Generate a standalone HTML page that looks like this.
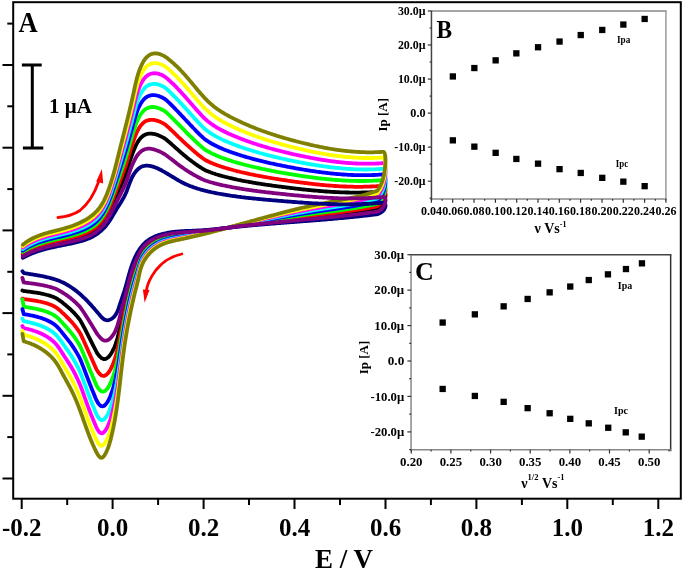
<!DOCTYPE html>
<html><head><meta charset="utf-8"><style>
html,body{margin:0;padding:0;background:#fff;}
svg{display:block;will-change:transform;}
text{font-family:"Liberation Serif",serif;font-weight:bold;fill:#000;}
.tl{font-size:25px;text-anchor:middle;}
.xt{font-size:27px;text-anchor:middle;}
.pl{font-size:28px;}
.sb{font-size:21px;}
.il{font-size:12px;}
.at{font-size:13px;}
.lab{font-size:10px;}
</style></head><body>
<svg width="685" height="576" viewBox="0 0 685 576">
<rect width="685" height="576" fill="#fff"/>
<g fill="none" stroke-width="3.8" stroke-linejoin="round" stroke-linecap="round">
<path d="M22.8 254.9 L23.8 254.3 L24.8 253.7 L25.8 253.2 L26.8 252.6 L27.8 252.1 L28.8 251.6 L29.8 251.2 L30.8 250.7 L31.8 250.3 L32.8 249.8 L33.8 249.4 L34.8 249.0 L35.8 248.7 L36.8 248.3 L37.8 247.9 L38.8 247.6 L39.8 247.3 L40.8 247.0 L41.8 246.7 L42.8 246.4 L43.8 246.1 L44.8 245.8 L45.8 245.5 L46.8 245.2 L47.8 245.0 L48.8 244.7 L49.8 244.5 L50.8 244.2 L51.8 244.0 L52.8 243.8 L53.8 243.5 L54.8 243.3 L55.8 243.1 L56.8 242.9 L57.8 242.6 L58.8 242.4 L59.8 242.2 L60.8 242.0 L61.8 241.8 L62.8 241.6 L63.8 241.3 L64.8 241.1 L65.8 240.9 L66.8 240.7 L67.8 240.4 L68.8 240.2 L69.8 240.0 L70.8 239.7 L71.8 239.5 L72.8 239.3 L73.8 239.0 L74.8 238.7 L75.8 238.5 L76.8 238.2 L77.8 237.9 L78.8 237.6 L79.8 237.3 L80.8 237.0 L81.8 236.7 L82.8 236.3 L83.8 235.9 L84.8 235.6 L85.8 235.2 L86.8 234.7 L87.8 234.3 L88.8 233.8 L89.8 233.3 L90.8 232.8 L91.8 232.3 L92.8 231.7 L93.8 231.1 L94.8 230.4 L95.8 229.6 L96.8 228.8 L97.8 227.9 L98.8 226.9 L99.8 225.9 L100.8 224.8 L101.8 223.7 L102.8 222.4 L103.8 221.1 L104.8 219.7 L105.8 218.1 L106.8 216.5 L107.8 214.7 L108.8 212.8 L109.8 210.8 L110.8 208.6 L111.8 206.4 L112.8 204.2 L113.8 202.0 L114.8 199.7 L115.8 197.4 L116.8 195.1 L117.8 192.8 L118.8 190.5 L119.8 188.2 L120.8 185.9 L121.8 183.6 L122.8 181.2 L123.8 178.8 L124.8 176.3 L125.8 173.6 L126.8 170.8 L127.8 167.7 L128.8 164.5 L129.8 161.4 L130.8 158.3 L131.8 155.5 L132.8 152.9 L133.8 150.3 L134.8 147.9 L135.8 145.6 L136.8 143.6 L137.8 141.9 L138.8 140.4 L139.8 139.0 L140.8 137.9 L141.8 136.9 L142.8 136.1 L143.8 135.4 L144.8 134.8 L145.8 134.4 L146.8 134.0 L147.8 133.8 L148.8 133.7 L149.8 133.6 L150.8 133.6 L151.8 133.6 L152.8 133.8 L153.8 133.9 L154.8 134.2 L155.8 134.4 L156.8 134.7 L157.8 135.1 L158.8 135.5 L159.8 135.9 L160.8 136.4 L161.8 136.9 L162.8 137.4 L163.8 137.9 L164.8 138.5 L165.8 139.3 L166.8 140.1 L167.8 140.9 L168.8 141.8 L169.8 142.6 L170.8 143.5 L171.8 144.4 L172.8 145.3 L173.8 146.2 L174.8 147.1 L175.8 148.0 L176.8 148.8 L177.8 149.7 L178.8 150.6 L179.8 151.5 L180.8 152.4 L181.8 153.2 L182.8 154.1 L183.8 154.9 L184.8 155.7 L185.8 156.6 L186.8 157.4 L187.8 158.2 L188.8 159.0 L189.8 159.7 L190.8 160.5 L191.8 161.3 L192.8 162.0 L193.8 162.7 L194.8 163.5 L195.8 164.2 L196.8 164.9 L197.8 165.6 L198.8 166.3 L199.8 166.9 L200.8 167.6 L201.8 168.2 L202.8 168.8 L203.8 169.4 L204.8 170.0 L205.8 170.5 L206.8 170.9 L207.8 171.3 L208.8 171.7 L209.8 172.1 L210.8 172.5 L211.8 172.8 L212.8 173.2 L213.8 173.5 L214.8 173.8 L215.8 174.2 L216.8 174.5 L217.8 174.8 L218.8 175.1 L219.8 175.4 L220.8 175.7 L221.8 175.9 L222.8 176.2 L223.8 176.5 L224.8 176.7 L225.8 177.0 L226.8 177.2 L227.8 177.5 L228.8 177.7 L229.8 178.0 L230.8 178.2 L231.8 178.4 L232.8 178.7 L233.8 178.9 L234.8 179.1 L235.8 179.3 L236.8 179.5 L237.8 179.8 L238.8 180.0 L239.8 180.2 L240.8 180.4 L241.8 180.6 L242.8 180.8 L243.8 181.0 L244.8 181.2 L245.8 181.3 L246.8 181.5 L247.8 181.7 L248.8 181.9 L249.8 182.1 L250.8 182.2 L251.8 182.4 L252.8 182.6 L253.8 182.8 L254.8 182.9 L255.8 183.1 L256.8 183.3 L257.8 183.4 L258.8 183.6 L259.8 183.7 L260.8 183.9 L261.8 184.1 L262.8 184.2 L263.8 184.4 L264.8 184.5 L265.8 184.7 L266.8 184.8 L267.8 184.9 L268.8 185.1 L269.8 185.2 L270.8 185.4 L271.8 185.5 L272.8 185.7 L273.8 185.8 L274.8 185.9 L275.8 186.1 L276.8 186.2 L277.8 186.3 L278.8 186.5 L279.8 186.6 L280.8 186.7 L281.8 186.9 L282.8 187.0 L283.8 187.1 L284.8 187.2 L285.8 187.4 L286.8 187.5 L287.8 187.6 L288.8 187.7 L289.8 187.9 L290.8 188.0 L291.8 188.1 L292.8 188.2 L293.8 188.3 L294.8 188.5 L295.8 188.6 L296.8 188.7 L297.8 188.8 L298.8 188.9 L299.8 189.0 L300.8 189.1 L301.8 189.3 L302.8 189.4 L303.8 189.5 L304.8 189.6 L305.8 189.7 L306.8 189.8 L307.8 189.9 L308.8 190.0 L309.8 190.1 L310.8 190.2 L311.8 190.3 L312.8 190.4 L313.8 190.5 L314.8 190.6 L315.8 190.7 L316.8 190.7 L317.8 190.8 L318.8 190.9 L319.8 191.0 L320.8 191.1 L321.8 191.2 L322.8 191.2 L323.8 191.3 L324.8 191.4 L325.8 191.5 L326.8 191.5 L327.8 191.6 L328.8 191.7 L329.8 191.7 L330.8 191.8 L331.8 191.9 L332.8 191.9 L333.8 192.0 L334.8 192.0 L335.8 192.1 L336.8 192.1 L337.8 192.2 L338.8 192.2 L339.8 192.3 L340.8 192.3 L341.8 192.3 L342.8 192.4 L343.8 192.4 L344.8 192.4 L345.8 192.5 L346.8 192.5 L347.8 192.5 L348.8 192.5 L349.8 192.6 L350.8 192.6 L351.8 192.6 L352.8 192.6 L353.8 192.6 L354.8 192.6 L355.8 192.6 L356.8 192.6 L357.8 192.6 L358.8 192.6 L359.8 192.6 L360.8 192.6 L361.8 192.5 L362.8 192.5 L363.8 192.5 L364.8 192.5 L365.8 192.4 L366.8 192.4 L367.8 192.4 L368.8 192.3 L369.8 192.3 L370.8 192.2 L371.8 192.2 L372.8 192.1 L373.8 192.1 L374.8 192.0 L375.8 191.9 L376.8 191.9 L377.8 191.8 L378.8 191.7 L379.8 191.6 L380.8 191.5 L381.8 191.5 L382.8 191.4 L383.8 191.3 C386.6 192.8 386.6 203.6 377.5 208.9 L376.5 209.1 L375.5 209.3 L374.5 209.5 L373.5 209.6 L372.5 209.8 L371.5 210.0 L370.5 210.1 L369.5 210.3 L368.5 210.5 L367.5 210.6 L366.5 210.8 L365.5 210.9 L364.5 211.1 L363.5 211.2 L362.5 211.4 L361.5 211.5 L360.5 211.6 L359.5 211.8 L358.5 211.9 L357.5 212.1 L356.5 212.2 L355.5 212.3 L354.5 212.5 L353.5 212.6 L352.5 212.7 L351.5 212.8 L350.5 213.0 L349.5 213.1 L348.5 213.2 L347.5 213.3 L346.5 213.4 L345.5 213.6 L344.5 213.7 L343.5 213.8 L342.5 213.9 L341.5 214.0 L340.5 214.1 L339.5 214.3 L338.5 214.4 L337.5 214.5 L336.5 214.6 L335.5 214.7 L334.5 214.8 L333.5 214.9 L332.5 215.0 L331.5 215.1 L330.5 215.2 L329.5 215.4 L328.5 215.5 L327.5 215.6 L326.5 215.7 L325.5 215.8 L324.5 215.9 L323.5 216.0 L322.5 216.1 L321.5 216.2 L320.5 216.3 L319.5 216.4 L318.5 216.5 L317.5 216.6 L316.5 216.7 L315.5 216.9 L314.5 217.0 L313.5 217.1 L312.5 217.2 L311.5 217.3 L310.5 217.4 L309.5 217.5 L308.5 217.6 L307.5 217.7 L306.5 217.8 L305.5 217.9 L304.5 218.1 L303.5 218.2 L302.5 218.3 L301.5 218.4 L300.5 218.5 L299.5 218.6 L298.5 218.7 L297.5 218.8 L296.5 219.0 L295.5 219.1 L294.5 219.2 L293.5 219.3 L292.5 219.4 L291.5 219.5 L290.5 219.6 L289.5 219.8 L288.5 219.9 L287.5 220.0 L286.5 220.1 L285.5 220.2 L284.5 220.3 L283.5 220.5 L282.5 220.6 L281.5 220.7 L280.5 220.8 L279.5 220.9 L278.5 221.0 L277.5 221.2 L276.5 221.3 L275.5 221.4 L274.5 221.5 L273.5 221.7 L272.5 221.8 L271.5 221.9 L270.5 222.0 L269.5 222.1 L268.5 222.3 L267.5 222.4 L266.5 222.5 L265.5 222.6 L264.5 222.8 L263.5 222.9 L262.5 223.0 L261.5 223.2 L260.5 223.3 L259.5 223.4 L258.5 223.5 L257.5 223.6 L256.5 223.8 L255.5 223.9 L254.5 224.0 L253.5 224.1 L252.5 224.2 L251.5 224.4 L250.5 224.5 L249.5 224.6 L248.5 224.8 L247.5 224.9 L246.5 225.0 L245.5 225.1 L244.5 225.3 L243.5 225.4 L242.5 225.6 L241.5 225.7 L240.5 225.8 L239.5 226.0 L238.5 226.1 L237.5 226.3 L236.5 226.4 L235.5 226.6 L234.5 226.7 L233.5 226.9 L232.5 227.0 L231.5 227.2 L230.5 227.3 L229.5 227.5 L228.5 227.6 L227.5 227.8 L226.5 228.0 L225.5 228.1 L224.5 228.3 L223.5 228.4 L222.5 228.6 L221.5 228.7 L220.5 228.9 L219.5 229.1 L218.5 229.2 L217.5 229.4 L216.5 229.5 L215.5 229.7 L214.5 229.8 L213.5 230.0 L212.5 230.1 L211.5 230.2 L210.5 230.4 L209.5 230.5 L208.5 230.7 L207.5 230.8 L206.5 230.9 L205.5 231.1 L204.5 231.2 L203.5 231.3 L202.5 231.4 L201.5 231.5 L200.5 231.7 L199.5 231.8 L198.5 231.9 L197.5 232.0 L196.5 232.1 L195.5 232.2 L194.5 232.3 L193.5 232.4 L192.5 232.5 L191.5 232.6 L190.5 232.7 L189.5 232.8 L188.5 232.9 L187.5 233.0 L186.5 233.0 L185.5 233.1 L184.5 233.2 L183.5 233.3 L182.5 233.4 L181.5 233.6 L180.5 233.7 L179.5 233.8 L178.5 233.9 L177.5 234.0 L176.5 234.1 L175.5 234.3 L174.5 234.4 L173.5 234.6 L172.5 234.7 L171.5 234.9 L170.5 235.1 L169.5 235.2 L168.5 235.4 L167.5 235.7 L166.5 235.9 L165.5 236.1 L164.5 236.4 L163.5 236.7 L162.5 237.0 L161.5 237.3 L160.5 237.6 L159.5 238.0 L158.5 238.4 L157.5 238.8 L156.5 239.2 L155.5 239.7 L154.5 240.2 L153.5 240.8 L152.5 241.4 L151.5 242.0 L150.5 242.7 L149.5 243.4 L148.5 244.2 L147.5 245.1 L146.5 246.0 L145.5 247.1 L144.5 248.2 L143.5 249.4 L142.5 250.8 L141.5 252.3 L140.5 254.1 L139.5 256.3 L138.5 258.8 L137.5 261.3 L136.5 263.7 L135.5 266.3 L134.5 269.0 L133.5 271.8 L132.5 274.9 L131.5 278.2 L130.5 281.8 L129.5 285.6 L128.5 289.6 L127.5 293.9 L126.5 298.1 L125.5 302.4 L124.5 306.6 L123.5 310.9 L122.5 315.3 L121.5 319.8 L120.5 324.5 L119.5 329.3 L118.5 333.9 L117.5 337.9 L116.5 341.4 L115.5 344.4 L114.5 347.0 L113.5 349.2 L112.5 351.2 L111.5 352.9 L110.5 354.5 L109.5 355.9 L108.5 357.0 L107.5 357.8 L106.5 358.5 L105.5 358.9 L104.5 359.1 L103.5 359.0 L102.5 358.6 L101.5 358.1 L100.5 357.2 L99.5 356.2 L98.5 355.0 L97.5 353.7 L96.5 352.0 L95.5 350.0 L94.5 348.0 L93.5 346.1 L92.5 344.1 L91.5 342.1 L90.5 340.1 L89.5 338.1 L88.5 336.1 L87.5 334.1 L86.5 332.1 L85.5 330.1 L84.5 328.2 L83.5 326.3 L82.5 324.4 L81.5 322.6 L80.5 320.8 L79.5 319.3 L78.5 318.0 L77.5 316.8 L76.5 315.6 L75.5 314.5 L74.5 313.4 L73.5 312.3 L72.5 311.3 L71.5 310.3 L70.5 309.4 L69.5 308.5 L68.5 307.6 L67.5 306.7 L66.5 305.9 L65.5 305.0 L64.5 304.2 L63.5 303.4 L62.5 302.6 L61.5 301.8 L60.5 301.1 L59.5 300.4 L58.5 299.7 L57.5 299.0 L56.5 298.4 L55.5 297.9 L54.5 297.4 L53.5 297.0 L52.5 296.6 L51.5 296.3 L50.5 295.9 L49.5 295.6 L48.5 295.3 L47.5 295.0 L46.5 294.8 L45.5 294.5 L44.5 294.3 L43.5 294.0 L42.5 293.8 L41.5 293.6 L40.5 293.4 L39.5 293.2 L38.5 293.0 L37.5 292.9 L36.5 292.7 L35.5 292.6 L34.5 292.4 L33.5 292.3 L32.5 292.1 L31.5 292.0 L30.5 291.8 L29.5 291.7 L28.5 291.6 L27.5 291.5 L26.5 291.3 L25.5 291.2 L24.5 291.1 L23.7 291.0 L22.4 290.5" stroke="#000000"/>
<path d="M22.8 253.5 L23.8 252.8 L24.8 252.2 L25.8 251.6 L26.8 251.1 L27.8 250.5 L28.8 250.0 L29.8 249.5 L30.8 249.1 L31.8 248.6 L32.8 248.2 L33.8 247.8 L34.8 247.4 L35.8 247.0 L36.8 246.6 L37.8 246.2 L38.8 245.9 L39.8 245.6 L40.8 245.2 L41.8 244.9 L42.8 244.6 L43.8 244.3 L44.8 244.0 L45.8 243.8 L46.8 243.5 L47.8 243.2 L48.8 243.0 L49.8 242.7 L50.8 242.5 L51.8 242.2 L52.8 242.0 L53.8 241.8 L54.8 241.5 L55.8 241.3 L56.8 241.1 L57.8 240.9 L58.8 240.6 L59.8 240.4 L60.8 240.2 L61.8 240.0 L62.8 239.7 L63.8 239.5 L64.8 239.3 L65.8 239.0 L66.8 238.8 L67.8 238.6 L68.8 238.3 L69.8 238.1 L70.8 237.8 L71.8 237.6 L72.8 237.3 L73.8 237.0 L74.8 236.8 L75.8 236.5 L76.8 236.2 L77.8 235.9 L78.8 235.6 L79.8 235.2 L80.8 234.9 L81.8 234.5 L82.8 234.2 L83.8 233.8 L84.8 233.4 L85.8 233.0 L86.8 232.5 L87.8 232.0 L88.8 231.5 L89.8 231.0 L90.8 230.5 L91.8 229.9 L92.8 229.3 L93.8 228.6 L94.8 227.9 L95.8 227.1 L96.8 226.2 L97.8 225.2 L98.8 224.2 L99.8 223.1 L100.8 221.9 L101.8 220.7 L102.8 219.3 L103.8 217.9 L104.8 216.3 L105.8 214.7 L106.8 212.8 L107.8 210.9 L108.8 208.8 L109.8 206.6 L110.8 204.2 L111.8 201.8 L112.8 199.4 L113.8 196.9 L114.8 194.4 L115.8 191.8 L116.8 189.2 L117.8 186.6 L118.8 184.0 L119.8 181.4 L120.8 178.8 L121.8 176.2 L122.8 173.6 L123.8 170.9 L124.8 168.2 L125.8 165.3 L126.8 162.2 L127.8 159.0 L128.8 155.6 L129.8 152.3 L130.8 149.1 L131.8 146.0 L132.8 143.1 L133.8 140.1 L134.8 137.3 L135.8 134.7 L136.8 132.3 L137.8 130.3 L138.8 128.5 L139.8 126.9 L140.8 125.5 L141.8 124.3 L142.8 123.3 L143.8 122.4 L144.8 121.7 L145.8 121.1 L146.8 120.7 L147.8 120.3 L148.8 120.1 L149.8 119.9 L150.8 119.8 L151.8 119.8 L152.8 119.8 L153.8 119.9 L154.8 120.1 L155.8 120.3 L156.8 120.6 L157.8 120.9 L158.8 121.3 L159.8 121.7 L160.8 122.1 L161.8 122.6 L162.8 123.1 L163.8 123.7 L164.8 124.3 L165.8 125.1 L166.8 125.9 L167.8 126.8 L168.8 127.7 L169.8 128.6 L170.8 129.6 L171.8 130.5 L172.8 131.5 L173.8 132.4 L174.8 133.4 L175.8 134.4 L176.8 135.3 L177.8 136.3 L178.8 137.3 L179.8 138.2 L180.8 139.2 L181.8 140.1 L182.8 141.1 L183.8 142.0 L184.8 143.0 L185.8 143.9 L186.8 144.8 L187.8 145.7 L188.8 146.6 L189.8 147.5 L190.8 148.4 L191.8 149.3 L192.8 150.2 L193.8 151.1 L194.8 151.9 L195.8 152.8 L196.8 153.6 L197.8 154.4 L198.8 155.2 L199.8 156.0 L200.8 156.8 L201.8 157.6 L202.8 158.3 L203.8 159.0 L204.8 159.7 L205.8 160.3 L206.8 160.8 L207.8 161.3 L208.8 161.8 L209.8 162.2 L210.8 162.7 L211.8 163.1 L212.8 163.5 L213.8 163.9 L214.8 164.3 L215.8 164.7 L216.8 165.1 L217.8 165.4 L218.8 165.8 L219.8 166.1 L220.8 166.5 L221.8 166.8 L222.8 167.1 L223.8 167.4 L224.8 167.7 L225.8 168.0 L226.8 168.3 L227.8 168.6 L228.8 168.9 L229.8 169.2 L230.8 169.5 L231.8 169.7 L232.8 170.0 L233.8 170.3 L234.8 170.5 L235.8 170.8 L236.8 171.1 L237.8 171.3 L238.8 171.5 L239.8 171.8 L240.8 172.0 L241.8 172.3 L242.8 172.5 L243.8 172.7 L244.8 173.0 L245.8 173.2 L246.8 173.4 L247.8 173.6 L248.8 173.8 L249.8 174.1 L250.8 174.3 L251.8 174.5 L252.8 174.7 L253.8 174.9 L254.8 175.1 L255.8 175.3 L256.8 175.5 L257.8 175.7 L258.8 175.9 L259.8 176.1 L260.8 176.2 L261.8 176.4 L262.8 176.6 L263.8 176.8 L264.8 177.0 L265.8 177.1 L266.8 177.3 L267.8 177.5 L268.8 177.7 L269.8 177.8 L270.8 178.0 L271.8 178.2 L272.8 178.3 L273.8 178.5 L274.8 178.7 L275.8 178.8 L276.8 179.0 L277.8 179.1 L278.8 179.3 L279.8 179.5 L280.8 179.6 L281.8 179.8 L282.8 179.9 L283.8 180.1 L284.8 180.2 L285.8 180.4 L286.8 180.5 L287.8 180.7 L288.8 180.8 L289.8 181.0 L290.8 181.1 L291.8 181.3 L292.8 181.4 L293.8 181.5 L294.8 181.7 L295.8 181.8 L296.8 181.9 L297.8 182.1 L298.8 182.2 L299.8 182.3 L300.8 182.5 L301.8 182.6 L302.8 182.7 L303.8 182.9 L304.8 183.0 L305.8 183.1 L306.8 183.2 L307.8 183.4 L308.8 183.5 L309.8 183.6 L310.8 183.7 L311.8 183.8 L312.8 183.9 L313.8 184.1 L314.8 184.2 L315.8 184.3 L316.8 184.4 L317.8 184.5 L318.8 184.6 L319.8 184.7 L320.8 184.8 L321.8 184.9 L322.8 185.0 L323.8 185.1 L324.8 185.2 L325.8 185.3 L326.8 185.3 L327.8 185.4 L328.8 185.5 L329.8 185.6 L330.8 185.7 L331.8 185.7 L332.8 185.8 L333.8 185.9 L334.8 186.0 L335.8 186.0 L336.8 186.1 L337.8 186.1 L338.8 186.2 L339.8 186.3 L340.8 186.3 L341.8 186.4 L342.8 186.4 L343.8 186.5 L344.8 186.5 L345.8 186.5 L346.8 186.6 L347.8 186.6 L348.8 186.6 L349.8 186.7 L350.8 186.7 L351.8 186.7 L352.8 186.7 L353.8 186.8 L354.8 186.8 L355.8 186.8 L356.8 186.8 L357.8 186.8 L358.8 186.8 L359.8 186.8 L360.8 186.8 L361.8 186.8 L362.8 186.8 L363.8 186.7 L364.8 186.7 L365.8 186.7 L366.8 186.7 L367.8 186.6 L368.8 186.6 L369.8 186.6 L370.8 186.5 L371.8 186.5 L372.8 186.4 L373.8 186.4 L374.8 186.3 L375.8 186.3 L376.8 186.2 L377.8 186.1 L378.8 186.1 L379.8 186.0 L380.8 185.9 L381.8 185.8 L382.8 185.7 L383.8 185.6 C386.6 187.1 386.6 200.1 377.5 206.3 L376.5 206.5 L375.5 206.7 L374.5 206.9 L373.5 207.1 L372.5 207.3 L371.5 207.5 L370.5 207.7 L369.5 207.9 L368.5 208.1 L367.5 208.2 L366.5 208.4 L365.5 208.6 L364.5 208.7 L363.5 208.9 L362.5 209.1 L361.5 209.2 L360.5 209.4 L359.5 209.5 L358.5 209.7 L357.5 209.8 L356.5 210.0 L355.5 210.1 L354.5 210.3 L353.5 210.4 L352.5 210.6 L351.5 210.7 L350.5 210.8 L349.5 211.0 L348.5 211.1 L347.5 211.2 L346.5 211.4 L345.5 211.5 L344.5 211.6 L343.5 211.8 L342.5 211.9 L341.5 212.0 L340.5 212.1 L339.5 212.3 L338.5 212.4 L337.5 212.5 L336.5 212.6 L335.5 212.8 L334.5 212.9 L333.5 213.0 L332.5 213.1 L331.5 213.2 L330.5 213.3 L329.5 213.5 L328.5 213.6 L327.5 213.7 L326.5 213.8 L325.5 213.9 L324.5 214.1 L323.5 214.2 L322.5 214.3 L321.5 214.4 L320.5 214.5 L319.5 214.7 L318.5 214.8 L317.5 214.9 L316.5 215.0 L315.5 215.1 L314.5 215.3 L313.5 215.4 L312.5 215.5 L311.5 215.6 L310.5 215.8 L309.5 215.9 L308.5 216.0 L307.5 216.1 L306.5 216.3 L305.5 216.4 L304.5 216.5 L303.5 216.6 L302.5 216.8 L301.5 216.9 L300.5 217.0 L299.5 217.2 L298.5 217.3 L297.5 217.4 L296.5 217.6 L295.5 217.7 L294.5 217.8 L293.5 217.9 L292.5 218.1 L291.5 218.2 L290.5 218.4 L289.5 218.5 L288.5 218.6 L287.5 218.8 L286.5 218.9 L285.5 219.0 L284.5 219.2 L283.5 219.3 L282.5 219.4 L281.5 219.6 L280.5 219.7 L279.5 219.9 L278.5 220.0 L277.5 220.1 L276.5 220.3 L275.5 220.4 L274.5 220.6 L273.5 220.7 L272.5 220.9 L271.5 221.0 L270.5 221.1 L269.5 221.3 L268.5 221.4 L267.5 221.6 L266.5 221.7 L265.5 221.9 L264.5 222.0 L263.5 222.2 L262.5 222.3 L261.5 222.5 L260.5 222.6 L259.5 222.8 L258.5 222.9 L257.5 223.0 L256.5 223.2 L255.5 223.3 L254.5 223.4 L253.5 223.6 L252.5 223.7 L251.5 223.9 L250.5 224.0 L249.5 224.2 L248.5 224.3 L247.5 224.5 L246.5 224.6 L245.5 224.8 L244.5 224.9 L243.5 225.1 L242.5 225.3 L241.5 225.4 L240.5 225.6 L239.5 225.7 L238.5 225.9 L237.5 226.1 L236.5 226.2 L235.5 226.4 L234.5 226.6 L233.5 226.7 L232.5 226.9 L231.5 227.1 L230.5 227.3 L229.5 227.4 L228.5 227.6 L227.5 227.8 L226.5 228.0 L225.5 228.2 L224.5 228.3 L223.5 228.5 L222.5 228.7 L221.5 228.9 L220.5 229.0 L219.5 229.2 L218.5 229.4 L217.5 229.6 L216.5 229.7 L215.5 229.9 L214.5 230.1 L213.5 230.2 L212.5 230.4 L211.5 230.6 L210.5 230.7 L209.5 230.9 L208.5 231.0 L207.5 231.2 L206.5 231.3 L205.5 231.5 L204.5 231.6 L203.5 231.8 L202.5 231.9 L201.5 232.1 L200.5 232.2 L199.5 232.3 L198.5 232.5 L197.5 232.6 L196.5 232.7 L195.5 232.9 L194.5 233.0 L193.5 233.1 L192.5 233.2 L191.5 233.3 L190.5 233.5 L189.5 233.6 L188.5 233.7 L187.5 233.8 L186.5 233.9 L185.5 234.0 L184.5 234.2 L183.5 234.3 L182.5 234.4 L181.5 234.5 L180.5 234.7 L179.5 234.8 L178.5 234.9 L177.5 235.1 L176.5 235.2 L175.5 235.3 L174.5 235.5 L173.5 235.7 L172.5 235.8 L171.5 236.0 L170.5 236.2 L169.5 236.4 L168.5 236.6 L167.5 236.8 L166.5 237.1 L165.5 237.3 L164.5 237.6 L163.5 237.9 L162.5 238.2 L161.5 238.6 L160.5 238.9 L159.5 239.3 L158.5 239.8 L157.5 240.2 L156.5 240.7 L155.5 241.2 L154.5 241.8 L153.5 242.4 L152.5 243.0 L151.5 243.7 L150.5 244.4 L149.5 245.2 L148.5 246.0 L147.5 247.0 L146.5 248.0 L145.5 249.1 L144.5 250.3 L143.5 251.6 L142.5 253.1 L141.5 254.8 L140.5 256.8 L139.5 259.3 L138.5 262.1 L137.5 265.0 L136.5 267.7 L135.5 270.5 L134.5 273.4 L133.5 276.5 L132.5 279.8 L131.5 283.3 L130.5 287.1 L129.5 291.1 L128.5 295.3 L127.5 299.7 L126.5 304.2 L125.5 308.8 L124.5 313.5 L123.5 318.2 L122.5 323.2 L121.5 328.5 L120.5 333.9 L119.5 339.3 L118.5 344.6 L117.5 349.3 L116.5 353.3 L115.5 356.9 L114.5 360.0 L113.5 362.7 L112.5 365.2 L111.5 367.4 L110.5 369.3 L109.5 371.1 L108.5 372.6 L107.5 373.7 L106.5 374.7 L105.5 375.3 L104.5 375.8 L103.5 375.9 L102.5 375.8 L101.5 375.4 L100.5 374.7 L99.5 373.7 L98.5 372.5 L97.5 371.1 L96.5 369.4 L95.5 367.2 L94.5 365.0 L93.5 362.7 L92.5 360.5 L91.5 358.3 L90.5 356.0 L89.5 353.8 L88.5 351.5 L87.5 349.2 L86.5 346.9 L85.5 344.7 L84.5 342.4 L83.5 340.2 L82.5 338.1 L81.5 335.9 L80.5 333.9 L79.5 332.1 L78.5 330.7 L77.5 329.3 L76.5 327.9 L75.5 326.6 L74.5 325.3 L73.5 324.1 L72.5 322.9 L71.5 321.8 L70.5 320.7 L69.5 319.6 L68.5 318.6 L67.5 317.6 L66.5 316.6 L65.5 315.6 L64.5 314.7 L63.5 313.7 L62.5 312.8 L61.5 311.8 L60.5 310.9 L59.5 310.0 L58.5 309.2 L57.5 308.4 L56.5 307.7 L55.5 307.0 L54.5 306.5 L53.5 306.0 L52.5 305.5 L51.5 305.1 L50.5 304.7 L49.5 304.3 L48.5 304.0 L47.5 303.6 L46.5 303.3 L45.5 303.0 L44.5 302.7 L43.5 302.5 L42.5 302.2 L41.5 302.0 L40.5 301.7 L39.5 301.5 L38.5 301.3 L37.5 301.1 L36.5 300.9 L35.5 300.8 L34.5 300.6 L33.5 300.4 L32.5 300.3 L31.5 300.1 L30.5 300.0 L29.5 299.8 L28.5 299.7 L27.5 299.6 L26.5 299.4 L25.5 299.3 L24.5 299.2 L23.7 299.1 L22.4 298.6" stroke="#ff0000"/>
<path d="M22.8 252.0 L23.8 251.3 L24.8 250.7 L25.8 250.1 L26.8 249.5 L27.8 249.0 L28.8 248.4 L29.8 247.9 L30.8 247.4 L31.8 247.0 L32.8 246.5 L33.8 246.1 L34.8 245.7 L35.8 245.3 L36.8 244.9 L37.8 244.5 L38.8 244.2 L39.8 243.9 L40.8 243.5 L41.8 243.2 L42.8 242.9 L43.8 242.6 L44.8 242.3 L45.8 242.0 L46.8 241.7 L47.8 241.5 L48.8 241.2 L49.8 241.0 L50.8 240.7 L51.8 240.5 L52.8 240.2 L53.8 240.0 L54.8 239.8 L55.8 239.5 L56.8 239.3 L57.8 239.1 L58.8 238.8 L59.8 238.6 L60.8 238.4 L61.8 238.1 L62.8 237.9 L63.8 237.7 L64.8 237.4 L65.8 237.2 L66.8 236.9 L67.8 236.7 L68.8 236.4 L69.8 236.2 L70.8 235.9 L71.8 235.7 L72.8 235.4 L73.8 235.1 L74.8 234.8 L75.8 234.5 L76.8 234.2 L77.8 233.9 L78.8 233.5 L79.8 233.2 L80.8 232.8 L81.8 232.4 L82.8 232.0 L83.8 231.6 L84.8 231.2 L85.8 230.7 L86.8 230.3 L87.8 229.8 L88.8 229.2 L89.8 228.7 L90.8 228.1 L91.8 227.5 L92.8 226.8 L93.8 226.2 L94.8 225.4 L95.8 224.6 L96.8 223.6 L97.8 222.6 L98.8 221.5 L99.8 220.4 L100.8 219.1 L101.8 217.8 L102.8 216.4 L103.8 214.8 L104.8 213.1 L105.8 211.3 L106.8 209.4 L107.8 207.3 L108.8 205.1 L109.8 202.7 L110.8 200.2 L111.8 197.5 L112.8 194.9 L113.8 192.3 L114.8 189.5 L115.8 186.7 L116.8 183.9 L117.8 181.0 L118.8 178.1 L119.8 175.2 L120.8 172.4 L121.8 169.5 L122.8 166.6 L123.8 163.7 L124.8 160.7 L125.8 157.6 L126.8 154.4 L127.8 151.0 L128.8 147.5 L129.8 144.0 L130.8 140.6 L131.8 137.3 L132.8 134.0 L133.8 130.8 L134.8 127.6 L135.8 124.6 L136.8 121.9 L137.8 119.6 L138.8 117.5 L139.8 115.7 L140.8 114.1 L141.8 112.8 L142.8 111.6 L143.8 110.5 L144.8 109.7 L145.8 108.9 L146.8 108.4 L147.8 107.9 L148.8 107.5 L149.8 107.3 L150.8 107.1 L151.8 107.0 L152.8 107.0 L153.8 107.1 L154.8 107.2 L155.8 107.4 L156.8 107.6 L157.8 107.9 L158.8 108.3 L159.8 108.6 L160.8 109.1 L161.8 109.5 L162.8 110.0 L163.8 110.6 L164.8 111.2 L165.8 112.0 L166.8 112.8 L167.8 113.8 L168.8 114.7 L169.8 115.6 L170.8 116.6 L171.8 117.6 L172.8 118.6 L173.8 119.6 L174.8 120.6 L175.8 121.6 L176.8 122.6 L177.8 123.6 L178.8 124.6 L179.8 125.7 L180.8 126.7 L181.8 127.7 L182.8 128.7 L183.8 129.7 L184.8 130.7 L185.8 131.8 L186.8 132.8 L187.8 133.8 L188.8 134.8 L189.8 135.8 L190.8 136.7 L191.8 137.7 L192.8 138.7 L193.8 139.7 L194.8 140.6 L195.8 141.6 L196.8 142.5 L197.8 143.4 L198.8 144.3 L199.8 145.2 L200.8 146.1 L201.8 147.0 L202.8 147.8 L203.8 148.7 L204.8 149.5 L205.8 150.1 L206.8 150.7 L207.8 151.3 L208.8 151.8 L209.8 152.3 L210.8 152.9 L211.8 153.4 L212.8 153.9 L213.8 154.3 L214.8 154.8 L215.8 155.2 L216.8 155.7 L217.8 156.1 L218.8 156.5 L219.8 156.9 L220.8 157.3 L221.8 157.7 L222.8 158.0 L223.8 158.4 L224.8 158.8 L225.8 159.1 L226.8 159.4 L227.8 159.8 L228.8 160.1 L229.8 160.4 L230.8 160.7 L231.8 161.1 L232.8 161.4 L233.8 161.7 L234.8 162.0 L235.8 162.3 L236.8 162.6 L237.8 162.9 L238.8 163.1 L239.8 163.4 L240.8 163.7 L241.8 164.0 L242.8 164.2 L243.8 164.5 L244.8 164.8 L245.8 165.0 L246.8 165.3 L247.8 165.5 L248.8 165.8 L249.8 166.0 L250.8 166.3 L251.8 166.5 L252.8 166.8 L253.8 167.0 L254.8 167.2 L255.8 167.5 L256.8 167.7 L257.8 167.9 L258.8 168.1 L259.8 168.4 L260.8 168.6 L261.8 168.8 L262.8 169.0 L263.8 169.2 L264.8 169.4 L265.8 169.6 L266.8 169.8 L267.8 170.0 L268.8 170.2 L269.8 170.4 L270.8 170.6 L271.8 170.8 L272.8 171.0 L273.8 171.2 L274.8 171.4 L275.8 171.6 L276.8 171.8 L277.8 172.0 L278.8 172.2 L279.8 172.3 L280.8 172.5 L281.8 172.7 L282.8 172.9 L283.8 173.0 L284.8 173.2 L285.8 173.4 L286.8 173.6 L287.8 173.7 L288.8 173.9 L289.8 174.1 L290.8 174.2 L291.8 174.4 L292.8 174.6 L293.8 174.7 L294.8 174.9 L295.8 175.0 L296.8 175.2 L297.8 175.4 L298.8 175.5 L299.8 175.7 L300.8 175.8 L301.8 176.0 L302.8 176.1 L303.8 176.3 L304.8 176.4 L305.8 176.5 L306.8 176.7 L307.8 176.8 L308.8 177.0 L309.8 177.1 L310.8 177.2 L311.8 177.4 L312.8 177.5 L313.8 177.6 L314.8 177.8 L315.8 177.9 L316.8 178.0 L317.8 178.1 L318.8 178.3 L319.8 178.4 L320.8 178.5 L321.8 178.6 L322.8 178.7 L323.8 178.8 L324.8 178.9 L325.8 179.0 L326.8 179.1 L327.8 179.2 L328.8 179.3 L329.8 179.4 L330.8 179.5 L331.8 179.6 L332.8 179.7 L333.8 179.8 L334.8 179.9 L335.8 180.0 L336.8 180.0 L337.8 180.1 L338.8 180.2 L339.8 180.2 L340.8 180.3 L341.8 180.4 L342.8 180.4 L343.8 180.5 L344.8 180.6 L345.8 180.6 L346.8 180.7 L347.8 180.7 L348.8 180.7 L349.8 180.8 L350.8 180.8 L351.8 180.8 L352.8 180.9 L353.8 180.9 L354.8 180.9 L355.8 180.9 L356.8 181.0 L357.8 181.0 L358.8 181.0 L359.8 181.0 L360.8 181.0 L361.8 181.0 L362.8 181.0 L363.8 181.0 L364.8 181.0 L365.8 181.0 L366.8 180.9 L367.8 180.9 L368.8 180.9 L369.8 180.9 L370.8 180.8 L371.8 180.8 L372.8 180.7 L373.8 180.7 L374.8 180.6 L375.8 180.6 L376.8 180.5 L377.8 180.5 L378.8 180.4 L379.8 180.3 L380.8 180.2 L381.8 180.2 L382.8 180.1 L383.8 180.0 C386.6 181.5 386.6 196.6 377.5 203.7 L376.5 203.9 L375.5 204.2 L374.5 204.4 L373.5 204.6 L372.5 204.8 L371.5 205.0 L370.5 205.2 L369.5 205.4 L368.5 205.6 L367.5 205.8 L366.5 206.0 L365.5 206.2 L364.5 206.4 L363.5 206.6 L362.5 206.8 L361.5 206.9 L360.5 207.1 L359.5 207.3 L358.5 207.5 L357.5 207.6 L356.5 207.8 L355.5 207.9 L354.5 208.1 L353.5 208.3 L352.5 208.4 L351.5 208.6 L350.5 208.7 L349.5 208.9 L348.5 209.0 L347.5 209.2 L346.5 209.3 L345.5 209.4 L344.5 209.6 L343.5 209.7 L342.5 209.9 L341.5 210.0 L340.5 210.1 L339.5 210.3 L338.5 210.4 L337.5 210.5 L336.5 210.7 L335.5 210.8 L334.5 210.9 L333.5 211.1 L332.5 211.2 L331.5 211.3 L330.5 211.5 L329.5 211.6 L328.5 211.7 L327.5 211.8 L326.5 212.0 L325.5 212.1 L324.5 212.2 L323.5 212.4 L322.5 212.5 L321.5 212.6 L320.5 212.8 L319.5 212.9 L318.5 213.0 L317.5 213.2 L316.5 213.3 L315.5 213.4 L314.5 213.6 L313.5 213.7 L312.5 213.8 L311.5 214.0 L310.5 214.1 L309.5 214.3 L308.5 214.4 L307.5 214.5 L306.5 214.7 L305.5 214.8 L304.5 215.0 L303.5 215.1 L302.5 215.3 L301.5 215.4 L300.5 215.6 L299.5 215.7 L298.5 215.9 L297.5 216.0 L296.5 216.2 L295.5 216.3 L294.5 216.5 L293.5 216.6 L292.5 216.8 L291.5 216.9 L290.5 217.1 L289.5 217.2 L288.5 217.4 L287.5 217.5 L286.5 217.7 L285.5 217.8 L284.5 218.0 L283.5 218.2 L282.5 218.3 L281.5 218.5 L280.5 218.6 L279.5 218.8 L278.5 219.0 L277.5 219.1 L276.5 219.3 L275.5 219.4 L274.5 219.6 L273.5 219.8 L272.5 219.9 L271.5 220.1 L270.5 220.3 L269.5 220.4 L268.5 220.6 L267.5 220.8 L266.5 220.9 L265.5 221.1 L264.5 221.3 L263.5 221.4 L262.5 221.6 L261.5 221.8 L260.5 221.9 L259.5 222.1 L258.5 222.3 L257.5 222.4 L256.5 222.6 L255.5 222.7 L254.5 222.9 L253.5 223.1 L252.5 223.2 L251.5 223.4 L250.5 223.6 L249.5 223.7 L248.5 223.9 L247.5 224.1 L246.5 224.2 L245.5 224.4 L244.5 224.6 L243.5 224.8 L242.5 225.0 L241.5 225.1 L240.5 225.3 L239.5 225.5 L238.5 225.7 L237.5 225.9 L236.5 226.1 L235.5 226.2 L234.5 226.4 L233.5 226.6 L232.5 226.8 L231.5 227.0 L230.5 227.2 L229.5 227.4 L228.5 227.6 L227.5 227.8 L226.5 228.0 L225.5 228.2 L224.5 228.4 L223.5 228.6 L222.5 228.8 L221.5 229.0 L220.5 229.2 L219.5 229.3 L218.5 229.5 L217.5 229.7 L216.5 229.9 L215.5 230.1 L214.5 230.3 L213.5 230.5 L212.5 230.7 L211.5 230.8 L210.5 231.0 L209.5 231.2 L208.5 231.4 L207.5 231.6 L206.5 231.7 L205.5 231.9 L204.5 232.1 L203.5 232.2 L202.5 232.4 L201.5 232.6 L200.5 232.7 L199.5 232.9 L198.5 233.0 L197.5 233.2 L196.5 233.3 L195.5 233.5 L194.5 233.6 L193.5 233.8 L192.5 233.9 L191.5 234.0 L190.5 234.2 L189.5 234.3 L188.5 234.5 L187.5 234.6 L186.5 234.7 L185.5 234.9 L184.5 235.0 L183.5 235.1 L182.5 235.3 L181.5 235.4 L180.5 235.6 L179.5 235.7 L178.5 235.9 L177.5 236.0 L176.5 236.2 L175.5 236.3 L174.5 236.5 L173.5 236.7 L172.5 236.8 L171.5 237.0 L170.5 237.2 L169.5 237.5 L168.5 237.7 L167.5 237.9 L166.5 238.2 L165.5 238.5 L164.5 238.8 L163.5 239.1 L162.5 239.4 L161.5 239.8 L160.5 240.2 L159.5 240.6 L158.5 241.0 L157.5 241.5 L156.5 242.0 L155.5 242.6 L154.5 243.2 L153.5 243.8 L152.5 244.5 L151.5 245.2 L150.5 246.0 L149.5 246.8 L148.5 247.7 L147.5 248.7 L146.5 249.7 L145.5 250.9 L144.5 252.2 L143.5 253.6 L142.5 255.2 L141.5 257.0 L140.5 259.2 L139.5 262.0 L138.5 265.2 L137.5 268.4 L136.5 271.3 L135.5 274.3 L134.5 277.5 L133.5 280.8 L132.5 284.3 L131.5 288.0 L130.5 291.9 L129.5 296.1 L128.5 300.5 L127.5 305.1 L126.5 309.9 L125.5 314.8 L124.5 319.8 L123.5 325.0 L122.5 330.5 L121.5 336.4 L120.5 342.5 L119.5 348.6 L118.5 354.4 L117.5 359.7 L116.5 364.3 L115.5 368.4 L114.5 372.0 L113.5 375.2 L112.5 378.0 L111.5 380.6 L110.5 383.0 L109.5 385.1 L108.5 386.9 L107.5 388.4 L106.5 389.5 L105.5 390.5 L104.5 391.2 L103.5 391.5 L102.5 391.6 L101.5 391.3 L100.5 390.7 L99.5 389.8 L98.5 388.6 L97.5 387.2 L96.5 385.3 L95.5 383.0 L94.5 380.7 L93.5 378.3 L92.5 376.0 L91.5 373.6 L90.5 371.2 L89.5 368.7 L88.5 366.3 L87.5 363.8 L86.5 361.3 L85.5 358.8 L84.5 356.4 L83.5 353.9 L82.5 351.5 L81.5 349.2 L80.5 346.9 L79.5 344.9 L78.5 343.3 L77.5 341.7 L76.5 340.1 L75.5 338.7 L74.5 337.2 L73.5 335.8 L72.5 334.5 L71.5 333.2 L70.5 332.0 L69.5 330.8 L68.5 329.6 L67.5 328.5 L66.5 327.3 L65.5 326.2 L64.5 325.1 L63.5 324.0 L62.5 322.9 L61.5 321.8 L60.5 320.8 L59.5 319.7 L58.5 318.7 L57.5 317.8 L56.5 316.9 L55.5 316.2 L54.5 315.5 L53.5 314.9 L52.5 314.4 L51.5 313.9 L50.5 313.4 L49.5 312.9 L48.5 312.5 L47.5 312.1 L46.5 311.7 L45.5 311.4 L44.5 311.0 L43.5 310.7 L42.5 310.4 L41.5 310.1 L40.5 309.9 L39.5 309.6 L38.5 309.4 L37.5 309.1 L36.5 308.9 L35.5 308.7 L34.5 308.5 L33.5 308.3 L32.5 308.1 L31.5 307.9 L30.5 307.8 L29.5 307.6 L28.5 307.4 L27.5 307.3 L26.5 307.2 L25.5 307.0 L24.5 306.9 L23.7 306.8 L22.4 299.3" stroke="#00ff00"/>
<path d="M22.8 250.6 L23.8 249.9 L24.8 249.2 L25.8 248.6 L26.8 248.0 L27.8 247.4 L28.8 246.8 L29.8 246.3 L30.8 245.8 L31.8 245.3 L32.8 244.9 L33.8 244.4 L34.8 244.0 L35.8 243.6 L36.8 243.2 L37.8 242.8 L38.8 242.5 L39.8 242.1 L40.8 241.8 L41.8 241.5 L42.8 241.2 L43.8 240.9 L44.8 240.6 L45.8 240.3 L46.8 240.0 L47.8 239.7 L48.8 239.5 L49.8 239.2 L50.8 239.0 L51.8 238.7 L52.8 238.5 L53.8 238.2 L54.8 238.0 L55.8 237.7 L56.8 237.5 L57.8 237.3 L58.8 237.0 L59.8 236.8 L60.8 236.6 L61.8 236.3 L62.8 236.1 L63.8 235.8 L64.8 235.6 L65.8 235.3 L66.8 235.1 L67.8 234.8 L68.8 234.6 L69.8 234.3 L70.8 234.0 L71.8 233.7 L72.8 233.4 L73.8 233.1 L74.8 232.8 L75.8 232.5 L76.8 232.2 L77.8 231.8 L78.8 231.5 L79.8 231.1 L80.8 230.7 L81.8 230.3 L82.8 229.9 L83.8 229.5 L84.8 229.0 L85.8 228.5 L86.8 228.0 L87.8 227.5 L88.8 226.9 L89.8 226.4 L90.8 225.8 L91.8 225.1 L92.8 224.4 L93.8 223.7 L94.8 222.9 L95.8 222.0 L96.8 221.1 L97.8 220.0 L98.8 218.9 L99.8 217.7 L100.8 216.4 L101.8 215.0 L102.8 213.5 L103.8 211.9 L104.8 210.1 L105.8 208.2 L106.8 206.1 L107.8 203.9 L108.8 201.5 L109.8 199.0 L110.8 196.4 L111.8 193.6 L112.8 190.8 L113.8 188.0 L114.8 185.0 L115.8 182.0 L116.8 178.9 L117.8 175.8 L118.8 172.6 L119.8 169.5 L120.8 166.4 L121.8 163.2 L122.8 160.1 L123.8 157.0 L124.8 153.8 L125.8 150.5 L126.8 147.1 L127.8 143.5 L128.8 139.9 L129.8 136.3 L130.8 132.7 L131.8 129.2 L132.8 125.6 L133.8 122.1 L134.8 118.6 L135.8 115.2 L136.8 112.2 L137.8 109.6 L138.8 107.3 L139.8 105.3 L140.8 103.6 L141.8 102.0 L142.8 100.6 L143.8 99.4 L144.8 98.4 L145.8 97.6 L146.8 96.9 L147.8 96.3 L148.8 95.9 L149.8 95.6 L150.8 95.3 L151.8 95.2 L152.8 95.1 L153.8 95.1 L154.8 95.2 L155.8 95.3 L156.8 95.5 L157.8 95.8 L158.8 96.1 L159.8 96.5 L160.8 96.9 L161.8 97.3 L162.8 97.8 L163.8 98.4 L164.8 99.0 L165.8 99.8 L166.8 100.6 L167.8 101.5 L168.8 102.5 L169.8 103.4 L170.8 104.4 L171.8 105.4 L172.8 106.4 L173.8 107.4 L174.8 108.4 L175.8 109.5 L176.8 110.5 L177.8 111.5 L178.8 112.6 L179.8 113.6 L180.8 114.7 L181.8 115.8 L182.8 116.8 L183.8 117.9 L184.8 119.0 L185.8 120.0 L186.8 121.1 L187.8 122.2 L188.8 123.2 L189.8 124.3 L190.8 125.3 L191.8 126.4 L192.8 127.5 L193.8 128.5 L194.8 129.5 L195.8 130.6 L196.8 131.6 L197.8 132.6 L198.8 133.6 L199.8 134.6 L200.8 135.5 L201.8 136.5 L202.8 137.4 L203.8 138.3 L204.8 139.2 L205.8 139.9 L206.8 140.6 L207.8 141.2 L208.8 141.9 L209.8 142.5 L210.8 143.1 L211.8 143.7 L212.8 144.2 L213.8 144.7 L214.8 145.3 L215.8 145.8 L216.8 146.3 L217.8 146.7 L218.8 147.2 L219.8 147.7 L220.8 148.1 L221.8 148.5 L222.8 148.9 L223.8 149.4 L224.8 149.8 L225.8 150.2 L226.8 150.5 L227.8 150.9 L228.8 151.3 L229.8 151.7 L230.8 152.0 L231.8 152.4 L232.8 152.7 L233.8 153.1 L234.8 153.4 L235.8 153.7 L236.8 154.1 L237.8 154.4 L238.8 154.7 L239.8 155.0 L240.8 155.4 L241.8 155.7 L242.8 156.0 L243.8 156.3 L244.8 156.6 L245.8 156.9 L246.8 157.2 L247.8 157.5 L248.8 157.7 L249.8 158.0 L250.8 158.3 L251.8 158.6 L252.8 158.9 L253.8 159.1 L254.8 159.4 L255.8 159.7 L256.8 159.9 L257.8 160.2 L258.8 160.4 L259.8 160.7 L260.8 160.9 L261.8 161.2 L262.8 161.4 L263.8 161.7 L264.8 161.9 L265.8 162.1 L266.8 162.4 L267.8 162.6 L268.8 162.8 L269.8 163.1 L270.8 163.3 L271.8 163.5 L272.8 163.7 L273.8 163.9 L274.8 164.2 L275.8 164.4 L276.8 164.6 L277.8 164.8 L278.8 165.0 L279.8 165.2 L280.8 165.4 L281.8 165.6 L282.8 165.8 L283.8 166.0 L284.8 166.2 L285.8 166.4 L286.8 166.6 L287.8 166.8 L288.8 167.0 L289.8 167.2 L290.8 167.4 L291.8 167.5 L292.8 167.7 L293.8 167.9 L294.8 168.1 L295.8 168.3 L296.8 168.5 L297.8 168.6 L298.8 168.8 L299.8 169.0 L300.8 169.1 L301.8 169.3 L302.8 169.5 L303.8 169.7 L304.8 169.8 L305.8 170.0 L306.8 170.1 L307.8 170.3 L308.8 170.5 L309.8 170.6 L310.8 170.8 L311.8 170.9 L312.8 171.1 L313.8 171.2 L314.8 171.4 L315.8 171.5 L316.8 171.7 L317.8 171.8 L318.8 171.9 L319.8 172.1 L320.8 172.2 L321.8 172.3 L322.8 172.5 L323.8 172.6 L324.8 172.7 L325.8 172.8 L326.8 172.9 L327.8 173.1 L328.8 173.2 L329.8 173.3 L330.8 173.4 L331.8 173.5 L332.8 173.6 L333.8 173.7 L334.8 173.8 L335.8 173.9 L336.8 174.0 L337.8 174.1 L338.8 174.2 L339.8 174.2 L340.8 174.3 L341.8 174.4 L342.8 174.5 L343.8 174.5 L344.8 174.6 L345.8 174.7 L346.8 174.7 L347.8 174.8 L348.8 174.8 L349.8 174.9 L350.8 174.9 L351.8 175.0 L352.8 175.0 L353.8 175.1 L354.8 175.1 L355.8 175.1 L356.8 175.1 L357.8 175.2 L358.8 175.2 L359.8 175.2 L360.8 175.2 L361.8 175.2 L362.8 175.2 L363.8 175.2 L364.8 175.2 L365.8 175.2 L366.8 175.2 L367.8 175.2 L368.8 175.2 L369.8 175.1 L370.8 175.1 L371.8 175.1 L372.8 175.0 L373.8 175.0 L374.8 175.0 L375.8 174.9 L376.8 174.9 L377.8 174.8 L378.8 174.7 L379.8 174.7 L380.8 174.6 L381.8 174.5 L382.8 174.4 L383.8 174.3 C386.6 175.8 386.6 193.1 377.5 201.1 L376.5 201.4 L375.5 201.6 L374.5 201.9 L373.5 202.1 L372.5 202.3 L371.5 202.6 L370.5 202.8 L369.5 203.0 L368.5 203.2 L367.5 203.5 L366.5 203.7 L365.5 203.9 L364.5 204.1 L363.5 204.3 L362.5 204.5 L361.5 204.7 L360.5 204.9 L359.5 205.0 L358.5 205.2 L357.5 205.4 L356.5 205.6 L355.5 205.8 L354.5 205.9 L353.5 206.1 L352.5 206.3 L351.5 206.4 L350.5 206.6 L349.5 206.8 L348.5 206.9 L347.5 207.1 L346.5 207.2 L345.5 207.4 L344.5 207.5 L343.5 207.7 L342.5 207.8 L341.5 208.0 L340.5 208.1 L339.5 208.3 L338.5 208.4 L337.5 208.6 L336.5 208.7 L335.5 208.8 L334.5 209.0 L333.5 209.1 L332.5 209.3 L331.5 209.4 L330.5 209.6 L329.5 209.7 L328.5 209.8 L327.5 210.0 L326.5 210.1 L325.5 210.3 L324.5 210.4 L323.5 210.5 L322.5 210.7 L321.5 210.8 L320.5 211.0 L319.5 211.1 L318.5 211.3 L317.5 211.4 L316.5 211.6 L315.5 211.7 L314.5 211.9 L313.5 212.0 L312.5 212.2 L311.5 212.3 L310.5 212.5 L309.5 212.6 L308.5 212.8 L307.5 213.0 L306.5 213.1 L305.5 213.3 L304.5 213.4 L303.5 213.6 L302.5 213.8 L301.5 213.9 L300.5 214.1 L299.5 214.3 L298.5 214.4 L297.5 214.6 L296.5 214.8 L295.5 214.9 L294.5 215.1 L293.5 215.3 L292.5 215.4 L291.5 215.6 L290.5 215.8 L289.5 216.0 L288.5 216.1 L287.5 216.3 L286.5 216.5 L285.5 216.7 L284.5 216.8 L283.5 217.0 L282.5 217.2 L281.5 217.4 L280.5 217.5 L279.5 217.7 L278.5 217.9 L277.5 218.1 L276.5 218.3 L275.5 218.5 L274.5 218.6 L273.5 218.8 L272.5 219.0 L271.5 219.2 L270.5 219.4 L269.5 219.6 L268.5 219.8 L267.5 219.9 L266.5 220.1 L265.5 220.3 L264.5 220.5 L263.5 220.7 L262.5 220.9 L261.5 221.1 L260.5 221.3 L259.5 221.5 L258.5 221.6 L257.5 221.8 L256.5 222.0 L255.5 222.2 L254.5 222.4 L253.5 222.6 L252.5 222.7 L251.5 222.9 L250.5 223.1 L249.5 223.3 L248.5 223.5 L247.5 223.7 L246.5 223.9 L245.5 224.1 L244.5 224.3 L243.5 224.5 L242.5 224.7 L241.5 224.9 L240.5 225.1 L239.5 225.3 L238.5 225.5 L237.5 225.7 L236.5 225.9 L235.5 226.1 L234.5 226.3 L233.5 226.5 L232.5 226.7 L231.5 226.9 L230.5 227.2 L229.5 227.4 L228.5 227.6 L227.5 227.8 L226.5 228.0 L225.5 228.2 L224.5 228.4 L223.5 228.6 L222.5 228.9 L221.5 229.1 L220.5 229.3 L219.5 229.5 L218.5 229.7 L217.5 229.9 L216.5 230.1 L215.5 230.3 L214.5 230.5 L213.5 230.7 L212.5 230.9 L211.5 231.1 L210.5 231.3 L209.5 231.5 L208.5 231.7 L207.5 231.9 L206.5 232.1 L205.5 232.3 L204.5 232.5 L203.5 232.6 L202.5 232.8 L201.5 233.0 L200.5 233.2 L199.5 233.4 L198.5 233.5 L197.5 233.7 L196.5 233.9 L195.5 234.0 L194.5 234.2 L193.5 234.4 L192.5 234.5 L191.5 234.7 L190.5 234.9 L189.5 235.0 L188.5 235.2 L187.5 235.3 L186.5 235.5 L185.5 235.6 L184.5 235.8 L183.5 236.0 L182.5 236.1 L181.5 236.3 L180.5 236.4 L179.5 236.6 L178.5 236.7 L177.5 236.9 L176.5 237.1 L175.5 237.2 L174.5 237.4 L173.5 237.6 L172.5 237.8 L171.5 238.0 L170.5 238.2 L169.5 238.4 L168.5 238.7 L167.5 238.9 L166.5 239.2 L165.5 239.5 L164.5 239.8 L163.5 240.1 L162.5 240.5 L161.5 240.9 L160.5 241.3 L159.5 241.7 L158.5 242.2 L157.5 242.7 L156.5 243.2 L155.5 243.8 L154.5 244.5 L153.5 245.1 L152.5 245.8 L151.5 246.6 L150.5 247.4 L149.5 248.3 L148.5 249.3 L147.5 250.3 L146.5 251.4 L145.5 252.6 L144.5 254.0 L143.5 255.4 L142.5 257.1 L141.5 259.1 L140.5 261.5 L139.5 264.5 L138.5 268.1 L137.5 271.5 L136.5 274.7 L135.5 277.9 L134.5 281.2 L133.5 284.7 L132.5 288.4 L131.5 292.3 L130.5 296.4 L129.5 300.7 L128.5 305.3 L127.5 310.1 L126.5 315.1 L125.5 320.3 L124.5 325.6 L123.5 331.3 L122.5 337.3 L121.5 343.8 L120.5 350.4 L119.5 357.1 L118.5 363.5 L117.5 369.3 L116.5 374.5 L115.5 379.1 L114.5 383.1 L113.5 386.7 L112.5 390.0 L111.5 393.0 L110.5 395.7 L109.5 398.2 L108.5 400.2 L107.5 402.0 L106.5 403.4 L105.5 404.6 L104.5 405.5 L103.5 406.1 L102.5 406.3 L101.5 406.2 L100.5 405.7 L99.5 404.8 L98.5 403.6 L97.5 402.1 L96.5 400.2 L95.5 397.9 L94.5 395.5 L93.5 393.1 L92.5 390.6 L91.5 388.2 L90.5 385.6 L89.5 383.1 L88.5 380.5 L87.5 377.9 L86.5 375.3 L85.5 372.6 L84.5 370.0 L83.5 367.4 L82.5 364.9 L81.5 362.4 L80.5 359.9 L79.5 357.7 L78.5 355.9 L77.5 354.1 L76.5 352.4 L75.5 350.7 L74.5 349.1 L73.5 347.6 L72.5 346.1 L71.5 344.6 L70.5 343.2 L69.5 341.9 L68.5 340.6 L67.5 339.3 L66.5 338.1 L65.5 336.8 L64.5 335.6 L63.5 334.3 L62.5 333.1 L61.5 331.8 L60.5 330.6 L59.5 329.4 L58.5 328.3 L57.5 327.2 L56.5 326.2 L55.5 325.3 L54.5 324.5 L53.5 323.8 L52.5 323.2 L51.5 322.6 L50.5 322.0 L49.5 321.5 L48.5 321.0 L47.5 320.5 L46.5 320.1 L45.5 319.6 L44.5 319.2 L43.5 318.9 L42.5 318.5 L41.5 318.1 L40.5 317.8 L39.5 317.5 L38.5 317.2 L37.5 316.9 L36.5 316.7 L35.5 316.4 L34.5 316.2 L33.5 315.9 L32.5 315.7 L31.5 315.5 L30.5 315.3 L29.5 315.1 L28.5 314.9 L27.5 314.7 L26.5 314.6 L25.5 314.4 L24.5 314.3 L23.7 314.1 L22.4 309.1" stroke="#0000ff"/>
<path d="M22.8 249.1 L23.8 248.4 L24.8 247.7 L25.8 247.0 L26.8 246.4 L27.8 245.8 L28.8 245.2 L29.8 244.7 L30.8 244.2 L31.8 243.7 L32.8 243.2 L33.8 242.8 L34.8 242.3 L35.8 241.9 L36.8 241.5 L37.8 241.1 L38.8 240.8 L39.8 240.4 L40.8 240.1 L41.8 239.8 L42.8 239.4 L43.8 239.1 L44.8 238.8 L45.8 238.5 L46.8 238.3 L47.8 238.0 L48.8 237.7 L49.8 237.4 L50.8 237.2 L51.8 236.9 L52.8 236.7 L53.8 236.4 L54.8 236.2 L55.8 235.9 L56.8 235.7 L57.8 235.5 L58.8 235.2 L59.8 235.0 L60.8 234.7 L61.8 234.5 L62.8 234.2 L63.8 234.0 L64.8 233.7 L65.8 233.5 L66.8 233.2 L67.8 232.9 L68.8 232.7 L69.8 232.4 L70.8 232.1 L71.8 231.8 L72.8 231.5 L73.8 231.2 L74.8 230.8 L75.8 230.5 L76.8 230.2 L77.8 229.8 L78.8 229.4 L79.8 229.0 L80.8 228.6 L81.8 228.2 L82.8 227.7 L83.8 227.3 L84.8 226.8 L85.8 226.3 L86.8 225.8 L87.8 225.2 L88.8 224.7 L89.8 224.0 L90.8 223.4 L91.8 222.7 L92.8 222.0 L93.8 221.3 L94.8 220.4 L95.8 219.5 L96.8 218.5 L97.8 217.4 L98.8 216.3 L99.8 215.0 L100.8 213.7 L101.8 212.2 L102.8 210.7 L103.8 209.0 L104.8 207.1 L105.8 205.1 L106.8 203.0 L107.8 200.7 L108.8 198.2 L109.8 195.5 L110.8 192.8 L111.8 189.9 L112.8 186.9 L113.8 183.9 L114.8 180.8 L115.8 177.5 L116.8 174.2 L117.8 170.8 L118.8 167.4 L119.8 164.1 L120.8 160.7 L121.8 157.4 L122.8 154.0 L123.8 150.7 L124.8 147.2 L125.8 143.8 L126.8 140.2 L127.8 136.6 L128.8 132.8 L129.8 129.1 L130.8 125.3 L131.8 121.5 L132.8 117.8 L133.8 113.9 L134.8 110.1 L135.8 106.4 L136.8 103.1 L137.8 100.3 L138.8 97.8 L139.8 95.6 L140.8 93.6 L141.8 91.9 L142.8 90.4 L143.8 89.0 L144.8 87.9 L145.8 86.9 L146.8 86.2 L147.8 85.5 L148.8 85.0 L149.8 84.6 L150.8 84.3 L151.8 84.1 L152.8 83.9 L153.8 83.9 L154.8 83.9 L155.8 84.0 L156.8 84.2 L157.8 84.4 L158.8 84.7 L159.8 85.0 L160.8 85.4 L161.8 85.9 L162.8 86.4 L163.8 86.9 L164.8 87.5 L165.8 88.3 L166.8 89.1 L167.8 90.0 L168.8 90.9 L169.8 91.9 L170.8 92.8 L171.8 93.8 L172.8 94.8 L173.8 95.8 L174.8 96.8 L175.8 97.9 L176.8 98.9 L177.8 99.9 L178.8 101.0 L179.8 102.1 L180.8 103.2 L181.8 104.2 L182.8 105.3 L183.8 106.4 L184.8 107.5 L185.8 108.6 L186.8 109.7 L187.8 110.8 L188.8 112.0 L189.8 113.1 L190.8 114.2 L191.8 115.3 L192.8 116.4 L193.8 117.5 L194.8 118.6 L195.8 119.7 L196.8 120.8 L197.8 121.9 L198.8 122.9 L199.8 124.0 L200.8 125.0 L201.8 126.0 L202.8 127.0 L203.8 128.0 L204.8 128.9 L205.8 129.7 L206.8 130.5 L207.8 131.2 L208.8 131.9 L209.8 132.6 L210.8 133.3 L211.8 133.9 L212.8 134.6 L213.8 135.2 L214.8 135.7 L215.8 136.3 L216.8 136.9 L217.8 137.4 L218.8 137.9 L219.8 138.4 L220.8 138.9 L221.8 139.4 L222.8 139.9 L223.8 140.3 L224.8 140.8 L225.8 141.2 L226.8 141.6 L227.8 142.1 L228.8 142.5 L229.8 142.9 L230.8 143.3 L231.8 143.7 L232.8 144.1 L233.8 144.5 L234.8 144.8 L235.8 145.2 L236.8 145.6 L237.8 145.9 L238.8 146.3 L239.8 146.7 L240.8 147.0 L241.8 147.4 L242.8 147.7 L243.8 148.1 L244.8 148.4 L245.8 148.7 L246.8 149.0 L247.8 149.4 L248.8 149.7 L249.8 150.0 L250.8 150.3 L251.8 150.6 L252.8 150.9 L253.8 151.2 L254.8 151.5 L255.8 151.8 L256.8 152.1 L257.8 152.4 L258.8 152.7 L259.8 153.0 L260.8 153.3 L261.8 153.5 L262.8 153.8 L263.8 154.1 L264.8 154.4 L265.8 154.6 L266.8 154.9 L267.8 155.1 L268.8 155.4 L269.8 155.7 L270.8 155.9 L271.8 156.2 L272.8 156.4 L273.8 156.7 L274.8 156.9 L275.8 157.1 L276.8 157.4 L277.8 157.6 L278.8 157.8 L279.8 158.1 L280.8 158.3 L281.8 158.5 L282.8 158.8 L283.8 159.0 L284.8 159.2 L285.8 159.4 L286.8 159.6 L287.8 159.9 L288.8 160.1 L289.8 160.3 L290.8 160.5 L291.8 160.7 L292.8 160.9 L293.8 161.1 L294.8 161.3 L295.8 161.5 L296.8 161.7 L297.8 161.9 L298.8 162.1 L299.8 162.3 L300.8 162.5 L301.8 162.7 L302.8 162.9 L303.8 163.0 L304.8 163.2 L305.8 163.4 L306.8 163.6 L307.8 163.8 L308.8 164.0 L309.8 164.1 L310.8 164.3 L311.8 164.5 L312.8 164.6 L313.8 164.8 L314.8 165.0 L315.8 165.1 L316.8 165.3 L317.8 165.4 L318.8 165.6 L319.8 165.8 L320.8 165.9 L321.8 166.0 L322.8 166.2 L323.8 166.3 L324.8 166.5 L325.8 166.6 L326.8 166.7 L327.8 166.9 L328.8 167.0 L329.8 167.1 L330.8 167.3 L331.8 167.4 L332.8 167.5 L333.8 167.6 L334.8 167.7 L335.8 167.8 L336.8 167.9 L337.8 168.0 L338.8 168.1 L339.8 168.2 L340.8 168.3 L341.8 168.4 L342.8 168.5 L343.8 168.6 L344.8 168.7 L345.8 168.7 L346.8 168.8 L347.8 168.9 L348.8 168.9 L349.8 169.0 L350.8 169.1 L351.8 169.1 L352.8 169.2 L353.8 169.2 L354.8 169.3 L355.8 169.3 L356.8 169.3 L357.8 169.4 L358.8 169.4 L359.8 169.4 L360.8 169.4 L361.8 169.4 L362.8 169.5 L363.8 169.5 L364.8 169.5 L365.8 169.5 L366.8 169.5 L367.8 169.5 L368.8 169.4 L369.8 169.4 L370.8 169.4 L371.8 169.4 L372.8 169.3 L373.8 169.3 L374.8 169.3 L375.8 169.2 L376.8 169.2 L377.8 169.1 L378.8 169.1 L379.8 169.0 L380.8 168.9 L381.8 168.9 L382.8 168.8 L383.8 168.7 C386.6 170.2 386.6 189.5 377.5 198.5 L376.5 198.8 L375.5 199.0 L374.5 199.3 L373.5 199.6 L372.5 199.8 L371.5 200.1 L370.5 200.4 L369.5 200.6 L368.5 200.8 L367.5 201.1 L366.5 201.3 L365.5 201.5 L364.5 201.8 L363.5 202.0 L362.5 202.2 L361.5 202.4 L360.5 202.6 L359.5 202.8 L358.5 203.0 L357.5 203.2 L356.5 203.4 L355.5 203.6 L354.5 203.8 L353.5 203.9 L352.5 204.1 L351.5 204.3 L350.5 204.5 L349.5 204.7 L348.5 204.8 L347.5 205.0 L346.5 205.2 L345.5 205.3 L344.5 205.5 L343.5 205.6 L342.5 205.8 L341.5 206.0 L340.5 206.1 L339.5 206.3 L338.5 206.4 L337.5 206.6 L336.5 206.7 L335.5 206.9 L334.5 207.0 L333.5 207.2 L332.5 207.4 L331.5 207.5 L330.5 207.7 L329.5 207.8 L328.5 208.0 L327.5 208.1 L326.5 208.3 L325.5 208.4 L324.5 208.6 L323.5 208.7 L322.5 208.9 L321.5 209.0 L320.5 209.2 L319.5 209.4 L318.5 209.5 L317.5 209.7 L316.5 209.8 L315.5 210.0 L314.5 210.2 L313.5 210.3 L312.5 210.5 L311.5 210.7 L310.5 210.8 L309.5 211.0 L308.5 211.2 L307.5 211.4 L306.5 211.5 L305.5 211.7 L304.5 211.9 L303.5 212.1 L302.5 212.3 L301.5 212.4 L300.5 212.6 L299.5 212.8 L298.5 213.0 L297.5 213.2 L296.5 213.4 L295.5 213.5 L294.5 213.7 L293.5 213.9 L292.5 214.1 L291.5 214.3 L290.5 214.5 L289.5 214.7 L288.5 214.9 L287.5 215.1 L286.5 215.3 L285.5 215.5 L284.5 215.7 L283.5 215.9 L282.5 216.1 L281.5 216.3 L280.5 216.5 L279.5 216.7 L278.5 216.9 L277.5 217.1 L276.5 217.3 L275.5 217.5 L274.5 217.7 L273.5 217.9 L272.5 218.1 L271.5 218.3 L270.5 218.5 L269.5 218.7 L268.5 218.9 L267.5 219.1 L266.5 219.3 L265.5 219.6 L264.5 219.8 L263.5 220.0 L262.5 220.2 L261.5 220.4 L260.5 220.6 L259.5 220.8 L258.5 221.0 L257.5 221.2 L256.5 221.4 L255.5 221.6 L254.5 221.8 L253.5 222.0 L252.5 222.3 L251.5 222.5 L250.5 222.7 L249.5 222.9 L248.5 223.1 L247.5 223.3 L246.5 223.5 L245.5 223.7 L244.5 224.0 L243.5 224.2 L242.5 224.4 L241.5 224.6 L240.5 224.8 L239.5 225.1 L238.5 225.3 L237.5 225.5 L236.5 225.7 L235.5 226.0 L234.5 226.2 L233.5 226.4 L232.5 226.6 L231.5 226.9 L230.5 227.1 L229.5 227.3 L228.5 227.6 L227.5 227.8 L226.5 228.0 L225.5 228.2 L224.5 228.5 L223.5 228.7 L222.5 228.9 L221.5 229.2 L220.5 229.4 L219.5 229.6 L218.5 229.8 L217.5 230.1 L216.5 230.3 L215.5 230.5 L214.5 230.7 L213.5 230.9 L212.5 231.2 L211.5 231.4 L210.5 231.6 L209.5 231.8 L208.5 232.0 L207.5 232.2 L206.5 232.4 L205.5 232.6 L204.5 232.8 L203.5 233.0 L202.5 233.2 L201.5 233.4 L200.5 233.6 L199.5 233.8 L198.5 234.0 L197.5 234.2 L196.5 234.4 L195.5 234.6 L194.5 234.8 L193.5 234.9 L192.5 235.1 L191.5 235.3 L190.5 235.5 L189.5 235.7 L188.5 235.8 L187.5 236.0 L186.5 236.2 L185.5 236.4 L184.5 236.5 L183.5 236.7 L182.5 236.9 L181.5 237.1 L180.5 237.2 L179.5 237.4 L178.5 237.6 L177.5 237.7 L176.5 237.9 L175.5 238.1 L174.5 238.3 L173.5 238.5 L172.5 238.7 L171.5 238.9 L170.5 239.1 L169.5 239.4 L168.5 239.6 L167.5 239.9 L166.5 240.2 L165.5 240.5 L164.5 240.8 L163.5 241.1 L162.5 241.5 L161.5 241.9 L160.5 242.3 L159.5 242.8 L158.5 243.3 L157.5 243.8 L156.5 244.4 L155.5 245.0 L154.5 245.7 L153.5 246.4 L152.5 247.1 L151.5 247.9 L150.5 248.8 L149.5 249.7 L148.5 250.7 L147.5 251.8 L146.5 253.0 L145.5 254.2 L144.5 255.6 L143.5 257.2 L142.5 258.9 L141.5 261.0 L140.5 263.6 L139.5 266.9 L138.5 270.8 L137.5 274.5 L136.5 277.9 L135.5 281.3 L134.5 284.8 L133.5 288.5 L132.5 292.3 L131.5 296.4 L130.5 300.6 L129.5 305.1 L128.5 309.8 L127.5 314.8 L126.5 320.0 L125.5 325.4 L124.5 331.1 L123.5 337.2 L122.5 343.7 L121.5 350.7 L120.5 357.9 L119.5 365.2 L118.5 372.1 L117.5 378.4 L116.5 384.1 L115.5 389.1 L114.5 393.6 L113.5 397.6 L112.5 401.3 L111.5 404.6 L110.5 407.7 L109.5 410.4 L108.5 412.8 L107.5 414.7 L106.5 416.4 L105.5 417.8 L104.5 418.9 L103.5 419.7 L102.5 420.1 L101.5 420.1 L100.5 419.7 L99.5 418.8 L98.5 417.6 L97.5 416.2 L96.5 414.2 L95.5 411.9 L94.5 409.5 L93.5 407.1 L92.5 404.7 L91.5 402.1 L90.5 399.6 L89.5 397.0 L88.5 394.3 L87.5 391.7 L86.5 388.9 L85.5 386.2 L84.5 383.5 L83.5 380.8 L82.5 378.1 L81.5 375.5 L80.5 372.9 L79.5 370.6 L78.5 368.5 L77.5 366.6 L76.5 364.7 L75.5 362.8 L74.5 361.0 L73.5 359.3 L72.5 357.6 L71.5 356.1 L70.5 354.5 L69.5 353.1 L68.5 351.6 L67.5 350.2 L66.5 348.8 L65.5 347.4 L64.5 346.0 L63.5 344.6 L62.5 343.2 L61.5 341.8 L60.5 340.4 L59.5 339.1 L58.5 337.8 L57.5 336.6 L56.5 335.4 L55.5 334.4 L54.5 333.5 L53.5 332.7 L52.5 331.9 L51.5 331.2 L50.5 330.6 L49.5 329.9 L48.5 329.4 L47.5 328.8 L46.5 328.3 L45.5 327.8 L44.5 327.3 L43.5 326.9 L42.5 326.4 L41.5 326.0 L40.5 325.6 L39.5 325.3 L38.5 324.9 L37.5 324.6 L36.5 324.3 L35.5 323.9 L34.5 323.6 L33.5 323.4 L32.5 323.1 L31.5 322.8 L30.5 322.6 L29.5 322.4 L28.5 322.2 L27.5 321.9 L26.5 321.7 L25.5 321.6 L24.5 321.4 L23.7 321.2 L22.4 318.7" stroke="#00ffff"/>
<path d="M22.8 247.6 L23.8 246.9 L24.8 246.2 L25.8 245.5 L26.8 244.9 L27.8 244.2 L28.8 243.7 L29.8 243.1 L30.8 242.6 L31.8 242.1 L32.8 241.6 L33.8 241.1 L34.8 240.7 L35.8 240.2 L36.8 239.8 L37.8 239.4 L38.8 239.1 L39.8 238.7 L40.8 238.4 L41.8 238.0 L42.8 237.7 L43.8 237.4 L44.8 237.1 L45.8 236.8 L46.8 236.5 L47.8 236.2 L48.8 236.0 L49.8 235.7 L50.8 235.4 L51.8 235.2 L52.8 234.9 L53.8 234.7 L54.8 234.4 L55.8 234.2 L56.8 233.9 L57.8 233.7 L58.8 233.4 L59.8 233.2 L60.8 232.9 L61.8 232.7 L62.8 232.4 L63.8 232.2 L64.8 231.9 L65.8 231.6 L66.8 231.4 L67.8 231.1 L68.8 230.8 L69.8 230.5 L70.8 230.2 L71.8 229.9 L72.8 229.5 L73.8 229.2 L74.8 228.9 L75.8 228.5 L76.8 228.1 L77.8 227.8 L78.8 227.4 L79.8 226.9 L80.8 226.5 L81.8 226.1 L82.8 225.6 L83.8 225.1 L84.8 224.6 L85.8 224.1 L86.8 223.5 L87.8 223.0 L88.8 222.4 L89.8 221.7 L90.8 221.1 L91.8 220.3 L92.8 219.6 L93.8 218.8 L94.8 218.0 L95.8 217.0 L96.8 216.0 L97.8 214.9 L98.8 213.7 L99.8 212.4 L100.8 211.1 L101.8 209.6 L102.8 207.9 L103.8 206.2 L104.8 204.3 L105.8 202.2 L106.8 200.0 L107.8 197.6 L108.8 195.0 L109.8 192.2 L110.8 189.4 L111.8 186.3 L112.8 183.3 L113.8 180.1 L114.8 176.7 L115.8 173.3 L116.8 169.8 L117.8 166.2 L118.8 162.6 L119.8 158.9 L120.8 155.4 L121.8 151.8 L122.8 148.2 L123.8 144.7 L124.8 141.1 L125.8 137.4 L126.8 133.7 L127.8 129.9 L128.8 126.1 L129.8 122.2 L130.8 118.3 L131.8 114.3 L132.8 110.3 L133.8 106.2 L134.8 102.0 L135.8 98.1 L136.8 94.6 L137.8 91.4 L138.8 88.7 L139.8 86.3 L140.8 84.2 L141.8 82.3 L142.8 80.6 L143.8 79.2 L144.8 77.9 L145.8 76.9 L146.8 76.0 L147.8 75.2 L148.8 74.6 L149.8 74.2 L150.8 73.8 L151.8 73.5 L152.8 73.3 L153.8 73.3 L154.8 73.2 L155.8 73.3 L156.8 73.4 L157.8 73.6 L158.8 73.9 L159.8 74.2 L160.8 74.6 L161.8 75.0 L162.8 75.5 L163.8 76.1 L164.8 76.7 L165.8 77.4 L166.8 78.2 L167.8 79.1 L168.8 80.0 L169.8 80.9 L170.8 81.8 L171.8 82.8 L172.8 83.7 L173.8 84.7 L174.8 85.7 L175.8 86.7 L176.8 87.7 L177.8 88.8 L178.8 89.8 L179.8 90.9 L180.8 92.0 L181.8 93.1 L182.8 94.2 L183.8 95.3 L184.8 96.4 L185.8 97.5 L186.8 98.6 L187.8 99.8 L188.8 100.9 L189.8 102.1 L190.8 103.2 L191.8 104.4 L192.8 105.5 L193.8 106.7 L194.8 107.8 L195.8 109.0 L196.8 110.1 L197.8 111.2 L198.8 112.3 L199.8 113.4 L200.8 114.5 L201.8 115.6 L202.8 116.6 L203.8 117.6 L204.8 118.6 L205.8 119.5 L206.8 120.4 L207.8 121.2 L208.8 122.0 L209.8 122.7 L210.8 123.5 L211.8 124.2 L212.8 124.9 L213.8 125.6 L214.8 126.2 L215.8 126.9 L216.8 127.5 L217.8 128.1 L218.8 128.6 L219.8 129.2 L220.8 129.7 L221.8 130.3 L222.8 130.8 L223.8 131.3 L224.8 131.8 L225.8 132.3 L226.8 132.7 L227.8 133.2 L228.8 133.7 L229.8 134.1 L230.8 134.6 L231.8 135.0 L232.8 135.4 L233.8 135.8 L234.8 136.3 L235.8 136.7 L236.8 137.1 L237.8 137.5 L238.8 137.9 L239.8 138.3 L240.8 138.7 L241.8 139.1 L242.8 139.4 L243.8 139.8 L244.8 140.2 L245.8 140.6 L246.8 140.9 L247.8 141.3 L248.8 141.6 L249.8 142.0 L250.8 142.3 L251.8 142.7 L252.8 143.0 L253.8 143.4 L254.8 143.7 L255.8 144.0 L256.8 144.3 L257.8 144.7 L258.8 145.0 L259.8 145.3 L260.8 145.6 L261.8 145.9 L262.8 146.2 L263.8 146.5 L264.8 146.8 L265.8 147.1 L266.8 147.4 L267.8 147.7 L268.8 148.0 L269.8 148.3 L270.8 148.5 L271.8 148.8 L272.8 149.1 L273.8 149.4 L274.8 149.6 L275.8 149.9 L276.8 150.2 L277.8 150.4 L278.8 150.7 L279.8 150.9 L280.8 151.2 L281.8 151.4 L282.8 151.7 L283.8 151.9 L284.8 152.2 L285.8 152.4 L286.8 152.7 L287.8 152.9 L288.8 153.1 L289.8 153.4 L290.8 153.6 L291.8 153.8 L292.8 154.1 L293.8 154.3 L294.8 154.5 L295.8 154.7 L296.8 155.0 L297.8 155.2 L298.8 155.4 L299.8 155.6 L300.8 155.8 L301.8 156.0 L302.8 156.2 L303.8 156.4 L304.8 156.6 L305.8 156.8 L306.8 157.0 L307.8 157.2 L308.8 157.4 L309.8 157.6 L310.8 157.8 L311.8 158.0 L312.8 158.2 L313.8 158.4 L314.8 158.6 L315.8 158.7 L316.8 158.9 L317.8 159.1 L318.8 159.3 L319.8 159.4 L320.8 159.6 L321.8 159.8 L322.8 159.9 L323.8 160.1 L324.8 160.2 L325.8 160.4 L326.8 160.5 L327.8 160.7 L328.8 160.8 L329.8 161.0 L330.8 161.1 L331.8 161.3 L332.8 161.4 L333.8 161.5 L334.8 161.6 L335.8 161.8 L336.8 161.9 L337.8 162.0 L338.8 162.1 L339.8 162.2 L340.8 162.3 L341.8 162.4 L342.8 162.5 L343.8 162.6 L344.8 162.7 L345.8 162.8 L346.8 162.9 L347.8 163.0 L348.8 163.0 L349.8 163.1 L350.8 163.2 L351.8 163.2 L352.8 163.3 L353.8 163.4 L354.8 163.4 L355.8 163.5 L356.8 163.5 L357.8 163.6 L358.8 163.6 L359.8 163.6 L360.8 163.7 L361.8 163.7 L362.8 163.7 L363.8 163.7 L364.8 163.7 L365.8 163.7 L366.8 163.7 L367.8 163.7 L368.8 163.7 L369.8 163.7 L370.8 163.7 L371.8 163.7 L372.8 163.7 L373.8 163.6 L374.8 163.6 L375.8 163.6 L376.8 163.5 L377.8 163.5 L378.8 163.4 L379.8 163.3 L380.8 163.3 L381.8 163.2 L382.8 163.1 L383.8 163.1 C386.6 164.6 386.6 186.0 377.5 195.9 L376.5 196.2 L375.5 196.5 L374.5 196.8 L373.5 197.1 L372.5 197.4 L371.5 197.6 L370.5 197.9 L369.5 198.2 L368.5 198.4 L367.5 198.7 L366.5 198.9 L365.5 199.2 L364.5 199.4 L363.5 199.7 L362.5 199.9 L361.5 200.1 L360.5 200.3 L359.5 200.6 L358.5 200.8 L357.5 201.0 L356.5 201.2 L355.5 201.4 L354.5 201.6 L353.5 201.8 L352.5 202.0 L351.5 202.2 L350.5 202.4 L349.5 202.5 L348.5 202.7 L347.5 202.9 L346.5 203.1 L345.5 203.3 L344.5 203.4 L343.5 203.6 L342.5 203.8 L341.5 203.9 L340.5 204.1 L339.5 204.3 L338.5 204.4 L337.5 204.6 L336.5 204.8 L335.5 204.9 L334.5 205.1 L333.5 205.3 L332.5 205.4 L331.5 205.6 L330.5 205.8 L329.5 205.9 L328.5 206.1 L327.5 206.2 L326.5 206.4 L325.5 206.6 L324.5 206.7 L323.5 206.9 L322.5 207.1 L321.5 207.2 L320.5 207.4 L319.5 207.6 L318.5 207.8 L317.5 207.9 L316.5 208.1 L315.5 208.3 L314.5 208.5 L313.5 208.7 L312.5 208.8 L311.5 209.0 L310.5 209.2 L309.5 209.4 L308.5 209.6 L307.5 209.8 L306.5 210.0 L305.5 210.2 L304.5 210.4 L303.5 210.5 L302.5 210.7 L301.5 210.9 L300.5 211.1 L299.5 211.3 L298.5 211.5 L297.5 211.7 L296.5 212.0 L295.5 212.2 L294.5 212.4 L293.5 212.6 L292.5 212.8 L291.5 213.0 L290.5 213.2 L289.5 213.4 L288.5 213.6 L287.5 213.8 L286.5 214.1 L285.5 214.3 L284.5 214.5 L283.5 214.7 L282.5 214.9 L281.5 215.1 L280.5 215.4 L279.5 215.6 L278.5 215.8 L277.5 216.0 L276.5 216.3 L275.5 216.5 L274.5 216.7 L273.5 216.9 L272.5 217.2 L271.5 217.4 L270.5 217.6 L269.5 217.9 L268.5 218.1 L267.5 218.3 L266.5 218.5 L265.5 218.8 L264.5 219.0 L263.5 219.2 L262.5 219.5 L261.5 219.7 L260.5 219.9 L259.5 220.2 L258.5 220.4 L257.5 220.6 L256.5 220.9 L255.5 221.1 L254.5 221.3 L253.5 221.5 L252.5 221.8 L251.5 222.0 L250.5 222.2 L249.5 222.5 L248.5 222.7 L247.5 222.9 L246.5 223.2 L245.5 223.4 L244.5 223.7 L243.5 223.9 L242.5 224.1 L241.5 224.4 L240.5 224.6 L239.5 224.9 L238.5 225.1 L237.5 225.3 L236.5 225.6 L235.5 225.8 L234.5 226.1 L233.5 226.3 L232.5 226.6 L231.5 226.8 L230.5 227.1 L229.5 227.3 L228.5 227.5 L227.5 227.8 L226.5 228.0 L225.5 228.3 L224.5 228.5 L223.5 228.8 L222.5 229.0 L221.5 229.2 L220.5 229.5 L219.5 229.7 L218.5 230.0 L217.5 230.2 L216.5 230.4 L215.5 230.7 L214.5 230.9 L213.5 231.1 L212.5 231.4 L211.5 231.6 L210.5 231.8 L209.5 232.1 L208.5 232.3 L207.5 232.5 L206.5 232.7 L205.5 233.0 L204.5 233.2 L203.5 233.4 L202.5 233.6 L201.5 233.8 L200.5 234.0 L199.5 234.3 L198.5 234.5 L197.5 234.7 L196.5 234.9 L195.5 235.1 L194.5 235.3 L193.5 235.5 L192.5 235.7 L191.5 235.9 L190.5 236.1 L189.5 236.3 L188.5 236.5 L187.5 236.7 L186.5 236.9 L185.5 237.0 L184.5 237.2 L183.5 237.4 L182.5 237.6 L181.5 237.8 L180.5 238.0 L179.5 238.2 L178.5 238.4 L177.5 238.5 L176.5 238.7 L175.5 238.9 L174.5 239.1 L173.5 239.3 L172.5 239.5 L171.5 239.8 L170.5 240.0 L169.5 240.2 L168.5 240.5 L167.5 240.8 L166.5 241.1 L165.5 241.4 L164.5 241.7 L163.5 242.1 L162.5 242.5 L161.5 242.9 L160.5 243.3 L159.5 243.8 L158.5 244.3 L157.5 244.9 L156.5 245.5 L155.5 246.1 L154.5 246.8 L153.5 247.6 L152.5 248.4 L151.5 249.2 L150.5 250.1 L149.5 251.1 L148.5 252.1 L147.5 253.2 L146.5 254.4 L145.5 255.7 L144.5 257.2 L143.5 258.8 L142.5 260.7 L141.5 262.9 L140.5 265.6 L139.5 269.2 L138.5 273.3 L137.5 277.3 L136.5 280.9 L135.5 284.5 L134.5 288.2 L133.5 292.0 L132.5 296.0 L131.5 300.2 L130.5 304.6 L129.5 309.2 L128.5 314.1 L127.5 319.3 L126.5 324.6 L125.5 330.3 L124.5 336.3 L123.5 342.8 L122.5 349.7 L121.5 357.2 L120.5 365.0 L119.5 372.8 L118.5 380.2 L117.5 387.0 L116.5 393.1 L115.5 398.6 L114.5 403.5 L113.5 407.9 L112.5 411.9 L111.5 415.6 L110.5 419.0 L109.5 422.0 L108.5 424.6 L107.5 426.8 L106.5 428.7 L105.5 430.3 L104.5 431.6 L103.5 432.6 L102.5 433.2 L101.5 433.3 L100.5 433.0 L99.5 432.2 L98.5 431.0 L97.5 429.5 L96.5 427.5 L95.5 425.3 L94.5 422.9 L93.5 420.6 L92.5 418.1 L91.5 415.6 L90.5 413.1 L89.5 410.5 L88.5 407.8 L87.5 405.1 L86.5 402.3 L85.5 399.6 L84.5 396.8 L83.5 394.0 L82.5 391.2 L81.5 388.5 L80.5 385.8 L79.5 383.4 L78.5 381.2 L77.5 379.0 L76.5 376.9 L75.5 374.9 L74.5 372.9 L73.5 371.0 L72.5 369.2 L71.5 367.5 L70.5 365.8 L69.5 364.2 L68.5 362.6 L67.5 361.1 L66.5 359.5 L65.5 358.0 L64.5 356.5 L63.5 354.9 L62.5 353.4 L61.5 351.8 L60.5 350.2 L59.5 348.7 L58.5 347.3 L57.5 345.9 L56.5 344.7 L55.5 343.5 L54.5 342.5 L53.5 341.6 L52.5 340.7 L51.5 339.9 L50.5 339.1 L49.5 338.4 L48.5 337.7 L47.5 337.0 L46.5 336.4 L45.5 335.9 L44.5 335.3 L43.5 334.8 L42.5 334.3 L41.5 333.8 L40.5 333.3 L39.5 332.9 L38.5 332.5 L37.5 332.1 L36.5 331.7 L35.5 331.3 L34.5 331.0 L33.5 330.7 L32.5 330.3 L31.5 330.0 L30.5 329.7 L29.5 329.5 L28.5 329.2 L27.5 329.0 L26.5 328.7 L25.5 328.5 L24.5 328.3 L23.7 328.1 L22.4 326.1" stroke="#ff00ff"/>
<path d="M22.8 246.2 L23.8 245.4 L24.8 244.7 L25.8 244.0 L26.8 243.3 L27.8 242.7 L28.8 242.1 L29.8 241.5 L30.8 240.9 L31.8 240.4 L32.8 239.9 L33.8 239.4 L34.8 239.0 L35.8 238.6 L36.8 238.1 L37.8 237.7 L38.8 237.4 L39.8 237.0 L40.8 236.6 L41.8 236.3 L42.8 236.0 L43.8 235.7 L44.8 235.3 L45.8 235.0 L46.8 234.8 L47.8 234.5 L48.8 234.2 L49.8 233.9 L50.8 233.7 L51.8 233.4 L52.8 233.1 L53.8 232.9 L54.8 232.6 L55.8 232.4 L56.8 232.1 L57.8 231.9 L58.8 231.6 L59.8 231.4 L60.8 231.1 L61.8 230.9 L62.8 230.6 L63.8 230.3 L64.8 230.1 L65.8 229.8 L66.8 229.5 L67.8 229.2 L68.8 228.9 L69.8 228.6 L70.8 228.3 L71.8 227.9 L72.8 227.6 L73.8 227.3 L74.8 226.9 L75.8 226.5 L76.8 226.1 L77.8 225.7 L78.8 225.3 L79.8 224.9 L80.8 224.4 L81.8 224.0 L82.8 223.5 L83.8 223.0 L84.8 222.4 L85.8 221.9 L86.8 221.3 L87.8 220.7 L88.8 220.1 L89.8 219.4 L90.8 218.7 L91.8 218.0 L92.8 217.2 L93.8 216.4 L94.8 215.5 L95.8 214.5 L96.8 213.5 L97.8 212.4 L98.8 211.2 L99.8 209.9 L100.8 208.4 L101.8 206.9 L102.8 205.2 L103.8 203.4 L104.8 201.5 L105.8 199.3 L106.8 197.0 L107.8 194.5 L108.8 191.9 L109.8 189.1 L110.8 186.1 L111.8 183.0 L112.8 179.8 L113.8 176.4 L114.8 172.9 L115.8 169.3 L116.8 165.5 L117.8 161.7 L118.8 157.9 L119.8 154.1 L120.8 150.3 L121.8 146.5 L122.8 142.7 L123.8 139.0 L124.8 135.2 L125.8 131.4 L126.8 127.6 L127.8 123.7 L128.8 119.7 L129.8 115.7 L130.8 111.6 L131.8 107.5 L132.8 103.2 L133.8 98.9 L134.8 94.4 L135.8 90.2 L136.8 86.4 L137.8 83.0 L138.8 80.1 L139.8 77.6 L140.8 75.3 L141.8 73.2 L142.8 71.4 L143.8 69.8 L144.8 68.5 L145.8 67.3 L146.8 66.3 L147.8 65.5 L148.8 64.8 L149.8 64.3 L150.8 63.8 L151.8 63.5 L152.8 63.3 L153.8 63.1 L154.8 63.1 L155.8 63.1 L156.8 63.2 L157.8 63.4 L158.8 63.7 L159.8 64.0 L160.8 64.3 L161.8 64.7 L162.8 65.2 L163.8 65.8 L164.8 66.3 L165.8 67.0 L166.8 67.8 L167.8 68.6 L168.8 69.4 L169.8 70.3 L170.8 71.2 L171.8 72.1 L172.8 73.0 L173.8 74.0 L174.8 75.0 L175.8 75.9 L176.8 76.9 L177.8 77.9 L178.8 79.0 L179.8 80.0 L180.8 81.1 L181.8 82.2 L182.8 83.3 L183.8 84.4 L184.8 85.5 L185.8 86.6 L186.8 87.8 L187.8 88.9 L188.8 90.1 L189.8 91.2 L190.8 92.4 L191.8 93.6 L192.8 94.8 L193.8 96.0 L194.8 97.2 L195.8 98.3 L196.8 99.5 L197.8 100.7 L198.8 101.8 L199.8 103.0 L200.8 104.1 L201.8 105.2 L202.8 106.3 L203.8 107.3 L204.8 108.4 L205.8 109.3 L206.8 110.2 L207.8 111.1 L208.8 112.0 L209.8 112.9 L210.8 113.7 L211.8 114.5 L212.8 115.3 L213.8 116.0 L214.8 116.7 L215.8 117.4 L216.8 118.1 L217.8 118.7 L218.8 119.3 L219.8 119.9 L220.8 120.5 L221.8 121.1 L222.8 121.7 L223.8 122.2 L224.8 122.8 L225.8 123.3 L226.8 123.8 L227.8 124.3 L228.8 124.8 L229.8 125.3 L230.8 125.8 L231.8 126.3 L232.8 126.8 L233.8 127.2 L234.8 127.7 L235.8 128.1 L236.8 128.6 L237.8 129.0 L238.8 129.5 L239.8 129.9 L240.8 130.3 L241.8 130.8 L242.8 131.2 L243.8 131.6 L244.8 132.0 L245.8 132.4 L246.8 132.8 L247.8 133.2 L248.8 133.6 L249.8 134.0 L250.8 134.4 L251.8 134.7 L252.8 135.1 L253.8 135.5 L254.8 135.8 L255.8 136.2 L256.8 136.6 L257.8 136.9 L258.8 137.3 L259.8 137.6 L260.8 138.0 L261.8 138.3 L262.8 138.6 L263.8 139.0 L264.8 139.3 L265.8 139.6 L266.8 139.9 L267.8 140.2 L268.8 140.6 L269.8 140.9 L270.8 141.2 L271.8 141.5 L272.8 141.8 L273.8 142.1 L274.8 142.4 L275.8 142.7 L276.8 143.0 L277.8 143.2 L278.8 143.5 L279.8 143.8 L280.8 144.1 L281.8 144.4 L282.8 144.6 L283.8 144.9 L284.8 145.2 L285.8 145.4 L286.8 145.7 L287.8 146.0 L288.8 146.2 L289.8 146.5 L290.8 146.7 L291.8 147.0 L292.8 147.2 L293.8 147.5 L294.8 147.7 L295.8 148.0 L296.8 148.2 L297.8 148.4 L298.8 148.7 L299.8 148.9 L300.8 149.2 L301.8 149.4 L302.8 149.6 L303.8 149.8 L304.8 150.1 L305.8 150.3 L306.8 150.5 L307.8 150.7 L308.8 150.9 L309.8 151.1 L310.8 151.4 L311.8 151.6 L312.8 151.8 L313.8 152.0 L314.8 152.2 L315.8 152.4 L316.8 152.6 L317.8 152.7 L318.8 152.9 L319.8 153.1 L320.8 153.3 L321.8 153.5 L322.8 153.7 L323.8 153.8 L324.8 154.0 L325.8 154.2 L326.8 154.3 L327.8 154.5 L328.8 154.7 L329.8 154.8 L330.8 155.0 L331.8 155.1 L332.8 155.3 L333.8 155.4 L334.8 155.6 L335.8 155.7 L336.8 155.8 L337.8 156.0 L338.8 156.1 L339.8 156.2 L340.8 156.3 L341.8 156.4 L342.8 156.5 L343.8 156.7 L344.8 156.8 L345.8 156.9 L346.8 157.0 L347.8 157.0 L348.8 157.1 L349.8 157.2 L350.8 157.3 L351.8 157.4 L352.8 157.5 L353.8 157.5 L354.8 157.6 L355.8 157.6 L356.8 157.7 L357.8 157.7 L358.8 157.8 L359.8 157.8 L360.8 157.9 L361.8 157.9 L362.8 157.9 L363.8 158.0 L364.8 158.0 L365.8 158.0 L366.8 158.0 L367.8 158.0 L368.8 158.0 L369.8 158.0 L370.8 158.0 L371.8 158.0 L372.8 158.0 L373.8 157.9 L374.8 157.9 L375.8 157.9 L376.8 157.8 L377.8 157.8 L378.8 157.7 L379.8 157.7 L380.8 157.6 L381.8 157.6 L382.8 157.5 L383.8 157.4 C386.6 158.9 386.6 182.5 377.5 193.2 L376.5 193.6 L375.5 193.9 L374.5 194.2 L373.5 194.6 L372.5 194.9 L371.5 195.2 L370.5 195.5 L369.5 195.7 L368.5 196.0 L367.5 196.3 L366.5 196.6 L365.5 196.8 L364.5 197.1 L363.5 197.3 L362.5 197.6 L361.5 197.8 L360.5 198.1 L359.5 198.3 L358.5 198.5 L357.5 198.8 L356.5 199.0 L355.5 199.2 L354.5 199.4 L353.5 199.6 L352.5 199.8 L351.5 200.0 L350.5 200.2 L349.5 200.4 L348.5 200.6 L347.5 200.8 L346.5 201.0 L345.5 201.2 L344.5 201.4 L343.5 201.6 L342.5 201.8 L341.5 201.9 L340.5 202.1 L339.5 202.3 L338.5 202.5 L337.5 202.6 L336.5 202.8 L335.5 203.0 L334.5 203.2 L333.5 203.3 L332.5 203.5 L331.5 203.7 L330.5 203.9 L329.5 204.0 L328.5 204.2 L327.5 204.4 L326.5 204.6 L325.5 204.7 L324.5 204.9 L323.5 205.1 L322.5 205.3 L321.5 205.5 L320.5 205.6 L319.5 205.8 L318.5 206.0 L317.5 206.2 L316.5 206.4 L315.5 206.6 L314.5 206.8 L313.5 207.0 L312.5 207.2 L311.5 207.4 L310.5 207.6 L309.5 207.8 L308.5 208.0 L307.5 208.2 L306.5 208.4 L305.5 208.6 L304.5 208.8 L303.5 209.0 L302.5 209.2 L301.5 209.5 L300.5 209.7 L299.5 209.9 L298.5 210.1 L297.5 210.3 L296.5 210.6 L295.5 210.8 L294.5 211.0 L293.5 211.2 L292.5 211.5 L291.5 211.7 L290.5 211.9 L289.5 212.1 L288.5 212.4 L287.5 212.6 L286.5 212.8 L285.5 213.1 L284.5 213.3 L283.5 213.6 L282.5 213.8 L281.5 214.0 L280.5 214.3 L279.5 214.5 L278.5 214.8 L277.5 215.0 L276.5 215.3 L275.5 215.5 L274.5 215.7 L273.5 216.0 L272.5 216.2 L271.5 216.5 L270.5 216.7 L269.5 217.0 L268.5 217.2 L267.5 217.5 L266.5 217.7 L265.5 218.0 L264.5 218.3 L263.5 218.5 L262.5 218.8 L261.5 219.0 L260.5 219.3 L259.5 219.5 L258.5 219.8 L257.5 220.0 L256.5 220.3 L255.5 220.5 L254.5 220.8 L253.5 221.0 L252.5 221.3 L251.5 221.6 L250.5 221.8 L249.5 222.1 L248.5 222.3 L247.5 222.6 L246.5 222.8 L245.5 223.1 L244.5 223.4 L243.5 223.6 L242.5 223.9 L241.5 224.1 L240.5 224.4 L239.5 224.7 L238.5 224.9 L237.5 225.2 L236.5 225.4 L235.5 225.7 L234.5 226.0 L233.5 226.2 L232.5 226.5 L231.5 226.7 L230.5 227.0 L229.5 227.3 L228.5 227.5 L227.5 227.8 L226.5 228.0 L225.5 228.3 L224.5 228.6 L223.5 228.8 L222.5 229.1 L221.5 229.3 L220.5 229.6 L219.5 229.8 L218.5 230.1 L217.5 230.3 L216.5 230.6 L215.5 230.8 L214.5 231.1 L213.5 231.3 L212.5 231.6 L211.5 231.8 L210.5 232.1 L209.5 232.3 L208.5 232.6 L207.5 232.8 L206.5 233.0 L205.5 233.3 L204.5 233.5 L203.5 233.8 L202.5 234.0 L201.5 234.2 L200.5 234.4 L199.5 234.7 L198.5 234.9 L197.5 235.1 L196.5 235.3 L195.5 235.6 L194.5 235.8 L193.5 236.0 L192.5 236.2 L191.5 236.4 L190.5 236.7 L189.5 236.9 L188.5 237.1 L187.5 237.3 L186.5 237.5 L185.5 237.7 L184.5 237.9 L183.5 238.1 L182.5 238.3 L181.5 238.5 L180.5 238.7 L179.5 238.9 L178.5 239.1 L177.5 239.3 L176.5 239.5 L175.5 239.7 L174.5 239.9 L173.5 240.1 L172.5 240.3 L171.5 240.6 L170.5 240.8 L169.5 241.1 L168.5 241.3 L167.5 241.6 L166.5 241.9 L165.5 242.3 L164.5 242.6 L163.5 243.0 L162.5 243.4 L161.5 243.8 L160.5 244.3 L159.5 244.8 L158.5 245.3 L157.5 245.9 L156.5 246.5 L155.5 247.2 L154.5 247.9 L153.5 248.7 L152.5 249.5 L151.5 250.4 L150.5 251.3 L149.5 252.3 L148.5 253.4 L147.5 254.6 L146.5 255.8 L145.5 257.2 L144.5 258.7 L143.5 260.4 L142.5 262.3 L141.5 264.6 L140.5 267.5 L139.5 271.3 L138.5 275.8 L137.5 280.0 L136.5 283.8 L135.5 287.5 L134.5 291.4 L133.5 295.4 L132.5 299.5 L131.5 303.9 L130.5 308.4 L129.5 313.2 L128.5 318.2 L127.5 323.5 L126.5 329.1 L125.5 335.0 L124.5 341.3 L123.5 348.1 L122.5 355.5 L121.5 363.5 L120.5 371.8 L119.5 380.1 L118.5 388.0 L117.5 395.2 L116.5 401.7 L115.5 407.6 L114.5 412.9 L113.5 417.7 L112.5 422.0 L111.5 426.0 L110.5 429.7 L109.5 433.0 L108.5 435.9 L107.5 438.3 L106.5 440.4 L105.5 442.2 L104.5 443.7 L103.5 444.8 L102.5 445.6 L101.5 445.8 L100.5 445.6 L99.5 444.8 L98.5 443.6 L97.5 442.1 L96.5 440.2 L95.5 438.0 L94.5 435.8 L93.5 433.5 L92.5 431.1 L91.5 428.7 L90.5 426.2 L89.5 423.6 L88.5 421.0 L87.5 418.3 L86.5 415.5 L85.5 412.7 L84.5 409.9 L83.5 407.1 L82.5 404.3 L81.5 401.5 L80.5 398.8 L79.5 396.2 L78.5 393.8 L77.5 391.4 L76.5 389.2 L75.5 387.0 L74.5 384.8 L73.5 382.8 L72.5 380.8 L71.5 378.9 L70.5 377.1 L69.5 375.3 L68.5 373.6 L67.5 371.9 L66.5 370.3 L65.5 368.6 L64.5 366.9 L63.5 365.2 L62.5 363.5 L61.5 361.8 L60.5 360.1 L59.5 358.4 L58.5 356.8 L57.5 355.3 L56.5 353.9 L55.5 352.6 L54.5 351.5 L53.5 350.4 L52.5 349.4 L51.5 348.5 L50.5 347.6 L49.5 346.8 L48.5 346.0 L47.5 345.2 L46.5 344.5 L45.5 343.9 L44.5 343.2 L43.5 342.6 L42.5 342.0 L41.5 341.5 L40.5 341.0 L39.5 340.4 L38.5 340.0 L37.5 339.5 L36.5 339.0 L35.5 338.6 L34.5 338.2 L33.5 337.8 L32.5 337.4 L31.5 337.1 L30.5 336.7 L29.5 336.4 L28.5 336.1 L27.5 335.8 L26.5 335.5 L25.5 335.2 L24.5 335.0 L23.7 334.8 L22.4 330.8" stroke="#ffff00"/>
<path d="M22.8 244.7 L23.8 243.9 L24.8 243.2 L25.8 242.4 L26.8 241.7 L27.8 241.1 L28.8 240.5 L29.8 239.9 L30.8 239.3 L31.8 238.8 L32.8 238.3 L33.8 237.8 L34.8 237.3 L35.8 236.9 L36.8 236.4 L37.8 236.0 L38.8 235.7 L39.8 235.3 L40.8 234.9 L41.8 234.6 L42.8 234.2 L43.8 233.9 L44.8 233.6 L45.8 233.3 L46.8 233.0 L47.8 232.7 L48.8 232.4 L49.8 232.2 L50.8 231.9 L51.8 231.6 L52.8 231.4 L53.8 231.1 L54.8 230.9 L55.8 230.6 L56.8 230.3 L57.8 230.1 L58.8 229.8 L59.8 229.6 L60.8 229.3 L61.8 229.0 L62.8 228.8 L63.8 228.5 L64.8 228.2 L65.8 227.9 L66.8 227.6 L67.8 227.3 L68.8 227.0 L69.8 226.7 L70.8 226.4 L71.8 226.0 L72.8 225.7 L73.8 225.3 L74.8 224.9 L75.8 224.5 L76.8 224.1 L77.8 223.7 L78.8 223.3 L79.8 222.8 L80.8 222.3 L81.8 221.8 L82.8 221.3 L83.8 220.8 L84.8 220.2 L85.8 219.7 L86.8 219.1 L87.8 218.4 L88.8 217.8 L89.8 217.1 L90.8 216.3 L91.8 215.6 L92.8 214.8 L93.8 213.9 L94.8 213.0 L95.8 212.0 L96.8 211.0 L97.8 209.9 L98.8 208.6 L99.8 207.3 L100.8 205.9 L101.8 204.3 L102.8 202.6 L103.8 200.8 L104.8 198.7 L105.8 196.6 L106.8 194.2 L107.8 191.6 L108.8 188.9 L109.8 186.0 L110.8 183.0 L111.8 179.8 L112.8 176.4 L113.8 172.9 L114.8 169.2 L115.8 165.4 L116.8 161.5 L117.8 157.5 L118.8 153.5 L119.8 149.4 L120.8 145.4 L121.8 141.5 L122.8 137.5 L123.8 133.6 L124.8 129.6 L125.8 125.6 L126.8 121.7 L127.8 117.6 L128.8 113.6 L129.8 109.4 L130.8 105.2 L131.8 100.9 L132.8 96.4 L133.8 91.8 L134.8 87.1 L135.8 82.6 L136.8 78.6 L137.8 75.0 L138.8 71.9 L139.8 69.2 L140.8 66.7 L141.8 64.5 L142.8 62.6 L143.8 60.9 L144.8 59.4 L145.8 58.1 L146.8 57.1 L147.8 56.2 L148.8 55.4 L149.8 54.8 L150.8 54.3 L151.8 53.9 L152.8 53.7 L153.8 53.5 L154.8 53.4 L155.8 53.4 L156.8 53.5 L157.8 53.6 L158.8 53.8 L159.8 54.1 L160.8 54.5 L161.8 54.9 L162.8 55.4 L163.8 55.9 L164.8 56.5 L165.8 57.1 L166.8 57.8 L167.8 58.6 L168.8 59.4 L169.8 60.2 L170.8 61.0 L171.8 61.9 L172.8 62.7 L173.8 63.6 L174.8 64.6 L175.8 65.5 L176.8 66.4 L177.8 67.4 L178.8 68.4 L179.8 69.4 L180.8 70.5 L181.8 71.5 L182.8 72.6 L183.8 73.7 L184.8 74.8 L185.8 75.9 L186.8 77.1 L187.8 78.2 L188.8 79.4 L189.8 80.6 L190.8 81.8 L191.8 83.0 L192.8 84.2 L193.8 85.4 L194.8 86.6 L195.8 87.8 L196.8 89.0 L197.8 90.2 L198.8 91.4 L199.8 92.5 L200.8 93.7 L201.8 94.8 L202.8 95.9 L203.8 97.0 L204.8 98.1 L205.8 99.1 L206.8 100.1 L207.8 101.1 L208.8 102.1 L209.8 103.0 L210.8 103.9 L211.8 104.8 L212.8 105.6 L213.8 106.4 L214.8 107.2 L215.8 107.9 L216.8 108.7 L217.8 109.4 L218.8 110.0 L219.8 110.7 L220.8 111.4 L221.8 112.0 L222.8 112.6 L223.8 113.2 L224.8 113.8 L225.8 114.4 L226.8 114.9 L227.8 115.5 L228.8 116.0 L229.8 116.6 L230.8 117.1 L231.8 117.6 L232.8 118.1 L233.8 118.6 L234.8 119.1 L235.8 119.6 L236.8 120.1 L237.8 120.6 L238.8 121.1 L239.8 121.5 L240.8 122.0 L241.8 122.5 L242.8 122.9 L243.8 123.4 L244.8 123.8 L245.8 124.3 L246.8 124.7 L247.8 125.1 L248.8 125.5 L249.8 126.0 L250.8 126.4 L251.8 126.8 L252.8 127.2 L253.8 127.6 L254.8 128.0 L255.8 128.4 L256.8 128.8 L257.8 129.2 L258.8 129.5 L259.8 129.9 L260.8 130.3 L261.8 130.7 L262.8 131.0 L263.8 131.4 L264.8 131.7 L265.8 132.1 L266.8 132.5 L267.8 132.8 L268.8 133.1 L269.8 133.5 L270.8 133.8 L271.8 134.1 L272.8 134.5 L273.8 134.8 L274.8 135.1 L275.8 135.4 L276.8 135.8 L277.8 136.1 L278.8 136.4 L279.8 136.7 L280.8 137.0 L281.8 137.3 L282.8 137.6 L283.8 137.9 L284.8 138.2 L285.8 138.5 L286.8 138.7 L287.8 139.0 L288.8 139.3 L289.8 139.6 L290.8 139.9 L291.8 140.1 L292.8 140.4 L293.8 140.7 L294.8 140.9 L295.8 141.2 L296.8 141.5 L297.8 141.7 L298.8 142.0 L299.8 142.2 L300.8 142.5 L301.8 142.7 L302.8 143.0 L303.8 143.2 L304.8 143.5 L305.8 143.7 L306.8 143.9 L307.8 144.2 L308.8 144.4 L309.8 144.6 L310.8 144.9 L311.8 145.1 L312.8 145.3 L313.8 145.5 L314.8 145.8 L315.8 146.0 L316.8 146.2 L317.8 146.4 L318.8 146.6 L319.8 146.8 L320.8 147.0 L321.8 147.2 L322.8 147.4 L323.8 147.6 L324.8 147.8 L325.8 148.0 L326.8 148.1 L327.8 148.3 L328.8 148.5 L329.8 148.7 L330.8 148.8 L331.8 149.0 L332.8 149.2 L333.8 149.3 L334.8 149.5 L335.8 149.6 L336.8 149.8 L337.8 149.9 L338.8 150.1 L339.8 150.2 L340.8 150.3 L341.8 150.5 L342.8 150.6 L343.8 150.7 L344.8 150.8 L345.8 150.9 L346.8 151.0 L347.8 151.1 L348.8 151.2 L349.8 151.3 L350.8 151.4 L351.8 151.5 L352.8 151.6 L353.8 151.7 L354.8 151.7 L355.8 151.8 L356.8 151.9 L357.8 151.9 L358.8 152.0 L359.8 152.0 L360.8 152.1 L361.8 152.1 L362.8 152.2 L363.8 152.2 L364.8 152.2 L365.8 152.3 L366.8 152.3 L367.8 152.3 L368.8 152.3 L369.8 152.3 L370.8 152.3 L371.8 152.3 L372.8 152.3 L373.8 152.3 L374.8 152.2 L375.8 152.2 L376.8 152.2 L377.8 152.1 L378.8 152.1 L379.8 152.0 L380.8 152.0 L381.8 151.9 L382.8 151.8 L383.8 151.8 C386.6 153.3 386.6 179.0 377.5 190.6 L376.5 191.0 L375.5 191.4 L374.5 191.7 L373.5 192.0 L372.5 192.4 L371.5 192.7 L370.5 193.0 L369.5 193.3 L368.5 193.6 L367.5 193.9 L366.5 194.2 L365.5 194.5 L364.5 194.8 L363.5 195.0 L362.5 195.3 L361.5 195.6 L360.5 195.8 L359.5 196.1 L358.5 196.3 L357.5 196.5 L356.5 196.8 L355.5 197.0 L354.5 197.2 L353.5 197.5 L352.5 197.7 L351.5 197.9 L350.5 198.1 L349.5 198.3 L348.5 198.5 L347.5 198.7 L346.5 198.9 L345.5 199.1 L344.5 199.3 L343.5 199.5 L342.5 199.7 L341.5 199.9 L340.5 200.1 L339.5 200.3 L338.5 200.5 L337.5 200.7 L336.5 200.9 L335.5 201.0 L334.5 201.2 L333.5 201.4 L332.5 201.6 L331.5 201.8 L330.5 202.0 L329.5 202.1 L328.5 202.3 L327.5 202.5 L326.5 202.7 L325.5 202.9 L324.5 203.1 L323.5 203.3 L322.5 203.5 L321.5 203.7 L320.5 203.9 L319.5 204.1 L318.5 204.3 L317.5 204.5 L316.5 204.7 L315.5 204.9 L314.5 205.1 L313.5 205.3 L312.5 205.5 L311.5 205.7 L310.5 205.9 L309.5 206.1 L308.5 206.4 L307.5 206.6 L306.5 206.8 L305.5 207.0 L304.5 207.3 L303.5 207.5 L302.5 207.7 L301.5 208.0 L300.5 208.2 L299.5 208.4 L298.5 208.7 L297.5 208.9 L296.5 209.2 L295.5 209.4 L294.5 209.6 L293.5 209.9 L292.5 210.1 L291.5 210.4 L290.5 210.6 L289.5 210.9 L288.5 211.1 L287.5 211.4 L286.5 211.6 L285.5 211.9 L284.5 212.2 L283.5 212.4 L282.5 212.7 L281.5 212.9 L280.5 213.2 L279.5 213.5 L278.5 213.7 L277.5 214.0 L276.5 214.3 L275.5 214.5 L274.5 214.8 L273.5 215.1 L272.5 215.3 L271.5 215.6 L270.5 215.9 L269.5 216.1 L268.5 216.4 L267.5 216.7 L266.5 217.0 L265.5 217.2 L264.5 217.5 L263.5 217.8 L262.5 218.1 L261.5 218.3 L260.5 218.6 L259.5 218.9 L258.5 219.2 L257.5 219.4 L256.5 219.7 L255.5 220.0 L254.5 220.3 L253.5 220.6 L252.5 220.8 L251.5 221.1 L250.5 221.4 L249.5 221.7 L248.5 222.0 L247.5 222.2 L246.5 222.5 L245.5 222.8 L244.5 223.1 L243.5 223.4 L242.5 223.6 L241.5 223.9 L240.5 224.2 L239.5 224.5 L238.5 224.7 L237.5 225.0 L236.5 225.3 L235.5 225.6 L234.5 225.9 L233.5 226.1 L232.5 226.4 L231.5 226.7 L230.5 227.0 L229.5 227.2 L228.5 227.5 L227.5 227.8 L226.5 228.1 L225.5 228.3 L224.5 228.6 L223.5 228.9 L222.5 229.1 L221.5 229.4 L220.5 229.7 L219.5 229.9 L218.5 230.2 L217.5 230.5 L216.5 230.7 L215.5 231.0 L214.5 231.3 L213.5 231.5 L212.5 231.8 L211.5 232.1 L210.5 232.3 L209.5 232.6 L208.5 232.8 L207.5 233.1 L206.5 233.3 L205.5 233.6 L204.5 233.8 L203.5 234.1 L202.5 234.3 L201.5 234.6 L200.5 234.8 L199.5 235.1 L198.5 235.3 L197.5 235.6 L196.5 235.8 L195.5 236.0 L194.5 236.3 L193.5 236.5 L192.5 236.7 L191.5 237.0 L190.5 237.2 L189.5 237.4 L188.5 237.7 L187.5 237.9 L186.5 238.1 L185.5 238.3 L184.5 238.5 L183.5 238.8 L182.5 239.0 L181.5 239.2 L180.5 239.4 L179.5 239.6 L178.5 239.8 L177.5 240.0 L176.5 240.2 L175.5 240.4 L174.5 240.7 L173.5 240.9 L172.5 241.1 L171.5 241.4 L170.5 241.6 L169.5 241.9 L168.5 242.2 L167.5 242.4 L166.5 242.8 L165.5 243.1 L164.5 243.5 L163.5 243.9 L162.5 244.3 L161.5 244.7 L160.5 245.2 L159.5 245.7 L158.5 246.3 L157.5 246.9 L156.5 247.5 L155.5 248.2 L154.5 249.0 L153.5 249.8 L152.5 250.6 L151.5 251.5 L150.5 252.5 L149.5 253.5 L148.5 254.7 L147.5 255.9 L146.5 257.2 L145.5 258.6 L144.5 260.1 L143.5 261.9 L142.5 263.9 L141.5 266.3 L140.5 269.4 L139.5 273.3 L138.5 278.1 L137.5 282.5 L136.5 286.5 L135.5 290.4 L134.5 294.4 L133.5 298.6 L132.5 302.9 L131.5 307.4 L130.5 312.1 L129.5 317.0 L128.5 322.1 L127.5 327.5 L126.5 333.3 L125.5 339.4 L124.5 346.0 L123.5 353.2 L122.5 361.0 L121.5 369.4 L120.5 378.2 L119.5 387.0 L118.5 395.3 L117.5 403.0 L116.5 410.0 L115.5 416.2 L114.5 421.9 L113.5 427.0 L112.5 431.7 L111.5 436.0 L110.5 440.0 L109.5 443.6 L108.5 446.7 L107.5 449.3 L106.5 451.6 L105.5 453.6 L104.5 455.3 L103.5 456.6 L102.5 457.4 L101.5 457.8 L100.5 457.6 L99.5 456.9 L98.5 455.7 L97.5 454.2 L96.5 452.3 L95.5 450.3 L94.5 448.2 L93.5 446.0 L92.5 443.8 L91.5 441.4 L90.5 439.0 L89.5 436.5 L88.5 433.9 L87.5 431.2 L86.5 428.5 L85.5 425.7 L84.5 422.9 L83.5 420.1 L82.5 417.2 L81.5 414.5 L80.5 411.7 L79.5 409.0 L78.5 406.4 L77.5 403.9 L76.5 401.4 L75.5 399.0 L74.5 396.7 L73.5 394.5 L72.5 392.4 L71.5 390.4 L70.5 388.4 L69.5 386.5 L68.5 384.6 L67.5 382.8 L66.5 381.0 L65.5 379.2 L64.5 377.4 L63.5 375.5 L62.5 373.6 L61.5 371.8 L60.5 369.9 L59.5 368.1 L58.5 366.4 L57.5 364.7 L56.5 363.2 L55.5 361.8 L54.5 360.4 L53.5 359.2 L52.5 358.1 L51.5 357.0 L50.5 356.0 L49.5 355.1 L48.5 354.2 L47.5 353.4 L46.5 352.6 L45.5 351.8 L44.5 351.1 L43.5 350.4 L42.5 349.7 L41.5 349.1 L40.5 348.5 L39.5 347.9 L38.5 347.3 L37.5 346.8 L36.5 346.3 L35.5 345.8 L34.5 345.3 L33.5 344.8 L32.5 344.4 L31.5 344.0 L30.5 343.6 L29.5 343.2 L28.5 342.8 L27.5 342.5 L26.5 342.2 L25.5 341.8 L24.5 341.5 L23.7 341.3 L22.4 333.8" stroke="#808000"/>
<path d="M22.8 257.8 L23.8 257.3 L24.8 256.7 L25.8 256.2 L26.8 255.7 L27.8 255.3 L28.8 254.8 L29.8 254.4 L30.8 253.9 L31.8 253.5 L32.8 253.1 L33.8 252.8 L34.8 252.4 L35.8 252.0 L36.8 251.7 L37.8 251.3 L38.8 251.0 L39.8 250.7 L40.8 250.4 L41.8 250.1 L42.8 249.8 L43.8 249.5 L44.8 249.3 L45.8 249.0 L46.8 248.7 L47.8 248.5 L48.8 248.2 L49.8 248.0 L50.8 247.8 L51.8 247.5 L52.8 247.3 L53.8 247.1 L54.8 246.9 L55.8 246.7 L56.8 246.4 L57.8 246.2 L58.8 246.0 L59.8 245.8 L60.8 245.6 L61.8 245.4 L62.8 245.2 L63.8 245.0 L64.8 244.8 L65.8 244.6 L66.8 244.4 L67.8 244.2 L68.8 244.0 L69.8 243.8 L70.8 243.6 L71.8 243.4 L72.8 243.1 L73.8 242.9 L74.8 242.7 L75.8 242.5 L76.8 242.2 L77.8 242.0 L78.8 241.7 L79.8 241.5 L80.8 241.2 L81.8 240.9 L82.8 240.6 L83.8 240.3 L84.8 239.9 L85.8 239.6 L86.8 239.2 L87.8 238.8 L88.8 238.4 L89.8 238.0 L90.8 237.5 L91.8 237.0 L92.8 236.5 L93.8 235.9 L94.8 235.4 L95.8 234.7 L96.8 234.1 L97.8 233.4 L98.8 232.6 L99.8 231.8 L100.8 231.0 L101.8 230.1 L102.8 229.2 L103.8 228.2 L104.8 227.1 L105.8 226.0 L106.8 224.7 L107.8 223.4 L108.8 222.0 L109.8 220.5 L110.8 218.9 L111.8 217.3 L112.8 215.6 L113.8 213.9 L114.8 212.2 L115.8 210.5 L116.8 208.8 L117.8 207.2 L118.8 205.6 L119.8 204.1 L120.8 202.5 L121.8 200.8 L122.8 199.1 L123.8 197.4 L124.8 195.4 L125.8 193.3 L126.8 190.9 L127.8 188.2 L128.8 185.4 L129.8 182.7 L130.8 180.2 L131.8 177.9 L132.8 176.0 L133.8 174.3 L134.8 172.8 L135.8 171.5 L136.8 170.3 L137.8 169.3 L138.8 168.5 L139.8 167.7 L140.8 167.1 L141.8 166.6 L142.8 166.2 L143.8 166.0 L144.8 165.8 L145.8 165.7 L146.8 165.6 L147.8 165.7 L148.8 165.8 L149.8 165.9 L150.8 166.1 L151.8 166.3 L152.8 166.6 L153.8 166.9 L154.8 167.3 L155.8 167.7 L156.8 168.1 L157.8 168.5 L158.8 169.0 L159.8 169.5 L160.8 170.0 L161.8 170.5 L162.8 171.1 L163.8 171.6 L164.8 172.2 L165.8 172.8 L166.8 173.4 L167.8 174.0 L168.8 174.6 L169.8 175.2 L170.8 175.8 L171.8 176.4 L172.8 177.0 L173.8 177.6 L174.8 178.2 L175.8 178.8 L176.8 179.4 L177.8 180.0 L178.8 180.6 L179.8 181.1 L180.8 181.7 L181.8 182.2 L182.8 182.7 L183.8 183.2 L184.8 183.7 L185.8 184.2 L186.8 184.6 L187.8 185.1 L188.8 185.5 L189.8 185.9 L190.8 186.3 L191.8 186.6 L192.8 187.0 L193.8 187.4 L194.8 187.7 L195.8 188.0 L196.8 188.4 L197.8 188.7 L198.8 189.0 L199.8 189.3 L200.8 189.6 L201.8 189.8 L202.8 190.1 L203.8 190.4 L204.8 190.6 L205.8 190.9 L206.8 191.1 L207.8 191.4 L208.8 191.6 L209.8 191.8 L210.8 192.0 L211.8 192.3 L212.8 192.5 L213.8 192.7 L214.8 192.9 L215.8 193.1 L216.8 193.3 L217.8 193.5 L218.8 193.7 L219.8 193.8 L220.8 194.0 L221.8 194.2 L222.8 194.4 L223.8 194.5 L224.8 194.7 L225.8 194.9 L226.8 195.0 L227.8 195.2 L228.8 195.4 L229.8 195.5 L230.8 195.7 L231.8 195.8 L232.8 196.0 L233.8 196.1 L234.8 196.2 L235.8 196.4 L236.8 196.5 L237.8 196.7 L238.8 196.8 L239.8 196.9 L240.8 197.0 L241.8 197.2 L242.8 197.3 L243.8 197.4 L244.8 197.5 L245.8 197.7 L246.8 197.8 L247.8 197.9 L248.8 198.0 L249.8 198.1 L250.8 198.2 L251.8 198.3 L252.8 198.4 L253.8 198.5 L254.8 198.6 L255.8 198.7 L256.8 198.8 L257.8 198.9 L258.8 199.0 L259.8 199.1 L260.8 199.2 L261.8 199.3 L262.8 199.4 L263.8 199.5 L264.8 199.6 L265.8 199.7 L266.8 199.8 L267.8 199.8 L268.8 199.9 L269.8 200.0 L270.8 200.1 L271.8 200.2 L272.8 200.3 L273.8 200.4 L274.8 200.4 L275.8 200.5 L276.8 200.6 L277.8 200.7 L278.8 200.8 L279.8 200.9 L280.8 200.9 L281.8 201.0 L282.8 201.1 L283.8 201.2 L284.8 201.3 L285.8 201.3 L286.8 201.4 L287.8 201.5 L288.8 201.6 L289.8 201.7 L290.8 201.7 L291.8 201.8 L292.8 201.9 L293.8 202.0 L294.8 202.0 L295.8 202.1 L296.8 202.2 L297.8 202.3 L298.8 202.3 L299.8 202.4 L300.8 202.5 L301.8 202.5 L302.8 202.6 L303.8 202.7 L304.8 202.8 L305.8 202.8 L306.8 202.9 L307.8 202.9 L308.8 203.0 L309.8 203.1 L310.8 203.1 L311.8 203.2 L312.8 203.3 L313.8 203.3 L314.8 203.4 L315.8 203.4 L316.8 203.5 L317.8 203.5 L318.8 203.6 L319.8 203.6 L320.8 203.7 L321.8 203.7 L322.8 203.8 L323.8 203.8 L324.8 203.9 L325.8 203.9 L326.8 203.9 L327.8 204.0 L328.8 204.0 L329.8 204.0 L330.8 204.1 L331.8 204.1 L332.8 204.1 L333.8 204.2 L334.8 204.2 L335.8 204.2 L336.8 204.2 L337.8 204.3 L338.8 204.3 L339.8 204.3 L340.8 204.3 L341.8 204.3 L342.8 204.3 L343.8 204.3 L344.8 204.3 L345.8 204.3 L346.8 204.3 L347.8 204.3 L348.8 204.3 L349.8 204.3 L350.8 204.3 L351.8 204.3 L352.8 204.3 L353.8 204.3 L354.8 204.3 L355.8 204.3 L356.8 204.2 L357.8 204.2 L358.8 204.2 L359.8 204.1 L360.8 204.1 L361.8 204.1 L362.8 204.0 L363.8 204.0 L364.8 204.0 L365.8 203.9 L366.8 203.9 L367.8 203.8 L368.8 203.8 L369.8 203.7 L370.8 203.6 L371.8 203.6 L372.8 203.5 L373.8 203.4 L374.8 203.4 L375.8 203.3 L376.8 203.2 L377.8 203.1 L378.8 203.0 L379.8 202.9 L380.8 202.9 L381.8 202.8 L382.8 202.7 L383.8 202.6 C386.6 204.1 386.6 210.7 377.5 214.2 L376.5 214.3 L375.5 214.4 L374.5 214.5 L373.5 214.7 L372.5 214.8 L371.5 214.9 L370.5 215.0 L369.5 215.2 L368.5 215.3 L367.5 215.4 L366.5 215.5 L365.5 215.6 L364.5 215.7 L363.5 215.8 L362.5 215.9 L361.5 216.1 L360.5 216.2 L359.5 216.3 L358.5 216.4 L357.5 216.5 L356.5 216.6 L355.5 216.7 L354.5 216.8 L353.5 216.9 L352.5 217.0 L351.5 217.1 L350.5 217.2 L349.5 217.3 L348.5 217.4 L347.5 217.5 L346.5 217.6 L345.5 217.7 L344.5 217.8 L343.5 217.9 L342.5 218.0 L341.5 218.1 L340.5 218.2 L339.5 218.2 L338.5 218.3 L337.5 218.4 L336.5 218.5 L335.5 218.6 L334.5 218.7 L333.5 218.8 L332.5 218.9 L331.5 219.0 L330.5 219.0 L329.5 219.1 L328.5 219.2 L327.5 219.3 L326.5 219.4 L325.5 219.5 L324.5 219.5 L323.5 219.6 L322.5 219.7 L321.5 219.8 L320.5 219.9 L319.5 220.0 L318.5 220.0 L317.5 220.1 L316.5 220.2 L315.5 220.3 L314.5 220.4 L313.5 220.4 L312.5 220.5 L311.5 220.6 L310.5 220.7 L309.5 220.8 L308.5 220.8 L307.5 220.9 L306.5 221.0 L305.5 221.1 L304.5 221.1 L303.5 221.2 L302.5 221.3 L301.5 221.4 L300.5 221.4 L299.5 221.5 L298.5 221.6 L297.5 221.7 L296.5 221.8 L295.5 221.8 L294.5 221.9 L293.5 222.0 L292.5 222.1 L291.5 222.1 L290.5 222.2 L289.5 222.3 L288.5 222.4 L287.5 222.4 L286.5 222.5 L285.5 222.6 L284.5 222.7 L283.5 222.8 L282.5 222.8 L281.5 222.9 L280.5 223.0 L279.5 223.1 L278.5 223.1 L277.5 223.2 L276.5 223.3 L275.5 223.4 L274.5 223.5 L273.5 223.5 L272.5 223.6 L271.5 223.7 L270.5 223.8 L269.5 223.9 L268.5 223.9 L267.5 224.0 L266.5 224.1 L265.5 224.2 L264.5 224.3 L263.5 224.4 L262.5 224.4 L261.5 224.5 L260.5 224.6 L259.5 224.7 L258.5 224.8 L257.5 224.9 L256.5 225.0 L255.5 225.0 L254.5 225.1 L253.5 225.2 L252.5 225.3 L251.5 225.4 L250.5 225.5 L249.5 225.6 L248.5 225.7 L247.5 225.8 L246.5 225.9 L245.5 226.0 L244.5 226.1 L243.5 226.2 L242.5 226.3 L241.5 226.3 L240.5 226.4 L239.5 226.5 L238.5 226.6 L237.5 226.7 L236.5 226.9 L235.5 227.0 L234.5 227.1 L233.5 227.2 L232.5 227.3 L231.5 227.4 L230.5 227.5 L229.5 227.6 L228.5 227.7 L227.5 227.8 L226.5 227.9 L225.5 228.0 L224.5 228.1 L223.5 228.2 L222.5 228.4 L221.5 228.5 L220.5 228.6 L219.5 228.7 L218.5 228.8 L217.5 228.9 L216.5 229.0 L215.5 229.1 L214.5 229.2 L213.5 229.3 L212.5 229.4 L211.5 229.5 L210.5 229.6 L209.5 229.7 L208.5 229.8 L207.5 229.9 L206.5 229.9 L205.5 230.0 L204.5 230.1 L203.5 230.2 L202.5 230.2 L201.5 230.3 L200.5 230.4 L199.5 230.4 L198.5 230.5 L197.5 230.5 L196.5 230.6 L195.5 230.6 L194.5 230.7 L193.5 230.7 L192.5 230.7 L191.5 230.8 L190.5 230.8 L189.5 230.8 L188.5 230.9 L187.5 230.9 L186.5 231.0 L185.5 231.0 L184.5 231.1 L183.5 231.1 L182.5 231.2 L181.5 231.2 L180.5 231.3 L179.5 231.4 L178.5 231.5 L177.5 231.6 L176.5 231.6 L175.5 231.7 L174.5 231.9 L173.5 232.0 L172.5 232.1 L171.5 232.2 L170.5 232.4 L169.5 232.5 L168.5 232.7 L167.5 232.9 L166.5 233.1 L165.5 233.3 L164.5 233.5 L163.5 233.7 L162.5 234.0 L161.5 234.2 L160.5 234.5 L159.5 234.8 L158.5 235.1 L157.5 235.5 L156.5 235.8 L155.5 236.2 L154.5 236.6 L153.5 237.1 L152.5 237.6 L151.5 238.1 L150.5 238.7 L149.5 239.3 L148.5 240.0 L147.5 240.7 L146.5 241.5 L145.5 242.3 L144.5 243.3 L143.5 244.3 L142.5 245.4 L141.5 246.6 L140.5 247.9 L139.5 249.3 L138.5 250.9 L137.5 252.5 L136.5 254.4 L135.5 256.3 L134.5 258.5 L133.5 260.9 L132.5 263.5 L131.5 266.3 L130.5 269.4 L129.5 272.7 L128.5 276.3 L127.5 280.0 L126.5 283.7 L125.5 287.2 L124.5 290.5 L123.5 293.5 L122.5 296.5 L121.5 299.5 L120.5 302.5 L119.5 305.6 L118.5 308.7 L117.5 311.2 L116.5 313.3 L115.5 314.9 L114.5 316.3 L113.5 317.3 L112.5 318.2 L111.5 318.9 L110.5 319.4 L109.5 319.8 L108.5 320.1 L107.5 320.3 L106.5 320.2 L105.5 320.0 L104.5 319.6 L103.5 318.9 L102.5 318.1 L101.5 317.1 L100.5 316.0 L99.5 314.8 L98.5 313.6 L97.5 312.4 L96.5 311.3 L95.5 310.1 L94.5 308.9 L93.5 307.8 L92.5 306.7 L91.5 305.5 L90.5 304.4 L89.5 303.4 L88.5 302.3 L87.5 301.2 L86.5 300.2 L85.5 299.2 L84.5 298.2 L83.5 297.3 L82.5 296.3 L81.5 295.4 L80.5 294.5 L79.5 293.6 L78.5 292.8 L77.5 291.9 L76.5 291.1 L75.5 290.4 L74.5 289.6 L73.5 288.9 L72.5 288.2 L71.5 287.5 L70.5 286.8 L69.5 286.2 L68.5 285.5 L67.5 285.0 L66.5 284.4 L65.5 283.8 L64.5 283.3 L63.5 282.8 L62.5 282.3 L61.5 281.9 L60.5 281.4 L59.5 281.0 L58.5 280.6 L57.5 280.2 L56.5 279.9 L55.5 279.5 L54.5 279.2 L53.5 278.9 L52.5 278.6 L51.5 278.3 L50.5 278.1 L49.5 277.8 L48.5 277.5 L47.5 277.3 L46.5 277.1 L45.5 276.8 L44.5 276.6 L43.5 276.4 L42.5 276.2 L41.5 276.0 L40.5 275.8 L39.5 275.6 L38.5 275.5 L37.5 275.3 L36.5 275.1 L35.5 274.9 L34.5 274.8 L33.5 274.6 L32.5 274.4 L31.5 274.3 L30.5 274.1 L29.5 274.0 L28.5 273.8 L27.5 273.6 L26.5 273.5 L25.5 273.3 L24.5 273.1 L23.7 273.0 L22.4 271.2" stroke="#000080"/>
<path d="M22.8 256.4 L23.8 255.8 L24.8 255.2 L25.8 254.7 L26.8 254.2 L27.8 253.7 L28.8 253.2 L29.8 252.8 L30.8 252.3 L31.8 251.9 L32.8 251.5 L33.8 251.1 L34.8 250.7 L35.8 250.3 L36.8 250.0 L37.8 249.6 L38.8 249.3 L39.8 249.0 L40.8 248.7 L41.8 248.4 L42.8 248.1 L43.8 247.8 L44.8 247.5 L45.8 247.3 L46.8 247.0 L47.8 246.7 L48.8 246.5 L49.8 246.2 L50.8 246.0 L51.8 245.8 L52.8 245.5 L53.8 245.3 L54.8 245.1 L55.8 244.9 L56.8 244.7 L57.8 244.4 L58.8 244.2 L59.8 244.0 L60.8 243.8 L61.8 243.6 L62.8 243.4 L63.8 243.2 L64.8 243.0 L65.8 242.7 L66.8 242.5 L67.8 242.3 L68.8 242.1 L69.8 241.9 L70.8 241.7 L71.8 241.4 L72.8 241.2 L73.8 241.0 L74.8 240.7 L75.8 240.5 L76.8 240.2 L77.8 240.0 L78.8 239.7 L79.8 239.4 L80.8 239.1 L81.8 238.8 L82.8 238.5 L83.8 238.1 L84.8 237.8 L85.8 237.4 L86.8 237.0 L87.8 236.6 L88.8 236.1 L89.8 235.7 L90.8 235.2 L91.8 234.6 L92.8 234.1 L93.8 233.5 L94.8 232.9 L95.8 232.2 L96.8 231.4 L97.8 230.6 L98.8 229.7 L99.8 228.8 L100.8 227.8 L101.8 226.8 L102.8 225.7 L103.8 224.5 L104.8 223.2 L105.8 221.9 L106.8 220.4 L107.8 218.8 L108.8 217.1 L109.8 215.4 L110.8 213.5 L111.8 211.5 L112.8 209.6 L113.8 207.6 L114.8 205.6 L115.8 203.5 L116.8 201.5 L117.8 199.5 L118.8 197.6 L119.8 195.6 L120.8 193.6 L121.8 191.6 L122.8 189.6 L123.8 187.5 L124.8 185.3 L125.8 182.9 L126.8 180.2 L127.8 177.3 L128.8 174.3 L129.8 171.3 L130.8 168.6 L131.8 166.0 L132.8 163.7 L133.8 161.6 L134.8 159.6 L135.8 157.7 L136.8 156.1 L137.8 154.7 L138.8 153.5 L139.8 152.5 L140.8 151.6 L141.8 150.8 L142.8 150.2 L143.8 149.7 L144.8 149.3 L145.8 149.0 L146.8 148.8 L147.8 148.7 L148.8 148.7 L149.8 148.7 L150.8 148.8 L151.8 149.0 L152.8 149.2 L153.8 149.4 L154.8 149.7 L155.8 150.0 L156.8 150.4 L157.8 150.8 L158.8 151.2 L159.8 151.6 L160.8 152.1 L161.8 152.6 L162.8 153.2 L163.8 153.7 L164.8 154.3 L165.8 155.0 L166.8 155.7 L167.8 156.5 L168.8 157.2 L169.8 158.0 L170.8 158.7 L171.8 159.5 L172.8 160.3 L173.8 161.1 L174.8 161.9 L175.8 162.6 L176.8 163.4 L177.8 164.2 L178.8 164.9 L179.8 165.7 L180.8 166.4 L181.8 167.1 L182.8 167.8 L183.8 168.5 L184.8 169.2 L185.8 169.9 L186.8 170.5 L187.8 171.2 L188.8 171.8 L189.8 172.4 L190.8 173.0 L191.8 173.6 L192.8 174.2 L193.8 174.8 L194.8 175.4 L195.8 175.9 L196.8 176.4 L197.8 177.0 L198.8 177.5 L199.8 178.0 L200.8 178.5 L201.8 179.0 L202.8 179.4 L203.8 179.9 L204.8 180.3 L205.8 180.7 L206.8 181.0 L207.8 181.3 L208.8 181.7 L209.8 182.0 L210.8 182.3 L211.8 182.5 L212.8 182.8 L213.8 183.1 L214.8 183.4 L215.8 183.6 L216.8 183.9 L217.8 184.1 L218.8 184.4 L219.8 184.6 L220.8 184.8 L221.8 185.1 L222.8 185.3 L223.8 185.5 L224.8 185.7 L225.8 185.9 L226.8 186.1 L227.8 186.3 L228.8 186.5 L229.8 186.7 L230.8 186.9 L231.8 187.1 L232.8 187.3 L233.8 187.5 L234.8 187.7 L235.8 187.9 L236.8 188.0 L237.8 188.2 L238.8 188.4 L239.8 188.5 L240.8 188.7 L241.8 188.9 L242.8 189.0 L243.8 189.2 L244.8 189.3 L245.8 189.5 L246.8 189.6 L247.8 189.8 L248.8 189.9 L249.8 190.1 L250.8 190.2 L251.8 190.4 L252.8 190.5 L253.8 190.6 L254.8 190.8 L255.8 190.9 L256.8 191.0 L257.8 191.2 L258.8 191.3 L259.8 191.4 L260.8 191.6 L261.8 191.7 L262.8 191.8 L263.8 191.9 L264.8 192.0 L265.8 192.2 L266.8 192.3 L267.8 192.4 L268.8 192.5 L269.8 192.6 L270.8 192.7 L271.8 192.9 L272.8 193.0 L273.8 193.1 L274.8 193.2 L275.8 193.3 L276.8 193.4 L277.8 193.5 L278.8 193.6 L279.8 193.7 L280.8 193.8 L281.8 193.9 L282.8 194.0 L283.8 194.1 L284.8 194.2 L285.8 194.4 L286.8 194.5 L287.8 194.6 L288.8 194.7 L289.8 194.8 L290.8 194.9 L291.8 195.0 L292.8 195.1 L293.8 195.2 L294.8 195.3 L295.8 195.3 L296.8 195.4 L297.8 195.5 L298.8 195.6 L299.8 195.7 L300.8 195.8 L301.8 195.9 L302.8 196.0 L303.8 196.1 L304.8 196.2 L305.8 196.3 L306.8 196.3 L307.8 196.4 L308.8 196.5 L309.8 196.6 L310.8 196.7 L311.8 196.7 L312.8 196.8 L313.8 196.9 L314.8 197.0 L315.8 197.0 L316.8 197.1 L317.8 197.2 L318.8 197.3 L319.8 197.3 L320.8 197.4 L321.8 197.4 L322.8 197.5 L323.8 197.6 L324.8 197.6 L325.8 197.7 L326.8 197.7 L327.8 197.8 L328.8 197.8 L329.8 197.9 L330.8 197.9 L331.8 198.0 L332.8 198.0 L333.8 198.1 L334.8 198.1 L335.8 198.2 L336.8 198.2 L337.8 198.2 L338.8 198.3 L339.8 198.3 L340.8 198.3 L341.8 198.3 L342.8 198.4 L343.8 198.4 L344.8 198.4 L345.8 198.4 L346.8 198.4 L347.8 198.4 L348.8 198.4 L349.8 198.4 L350.8 198.4 L351.8 198.5 L352.8 198.4 L353.8 198.4 L354.8 198.4 L355.8 198.4 L356.8 198.4 L357.8 198.4 L358.8 198.4 L359.8 198.4 L360.8 198.3 L361.8 198.3 L362.8 198.3 L363.8 198.2 L364.8 198.2 L365.8 198.2 L366.8 198.1 L367.8 198.1 L368.8 198.0 L369.8 198.0 L370.8 197.9 L371.8 197.9 L372.8 197.8 L373.8 197.7 L374.8 197.7 L375.8 197.6 L376.8 197.5 L377.8 197.5 L378.8 197.4 L379.8 197.3 L380.8 197.2 L381.8 197.1 L382.8 197.0 L383.8 196.9 C386.6 198.4 386.6 207.2 377.5 211.6 L376.5 211.7 L375.5 211.9 L374.5 212.0 L373.5 212.2 L372.5 212.3 L371.5 212.4 L370.5 212.6 L369.5 212.7 L368.5 212.9 L367.5 213.0 L366.5 213.1 L365.5 213.3 L364.5 213.4 L363.5 213.5 L362.5 213.7 L361.5 213.8 L360.5 213.9 L359.5 214.0 L358.5 214.2 L357.5 214.3 L356.5 214.4 L355.5 214.5 L354.5 214.6 L353.5 214.7 L352.5 214.9 L351.5 215.0 L350.5 215.1 L349.5 215.2 L348.5 215.3 L347.5 215.4 L346.5 215.5 L345.5 215.6 L344.5 215.7 L343.5 215.8 L342.5 215.9 L341.5 216.0 L340.5 216.2 L339.5 216.3 L338.5 216.4 L337.5 216.5 L336.5 216.6 L335.5 216.7 L334.5 216.8 L333.5 216.9 L332.5 217.0 L331.5 217.0 L330.5 217.1 L329.5 217.2 L328.5 217.3 L327.5 217.4 L326.5 217.5 L325.5 217.6 L324.5 217.7 L323.5 217.8 L322.5 217.9 L321.5 218.0 L320.5 218.1 L319.5 218.2 L318.5 218.3 L317.5 218.4 L316.5 218.5 L315.5 218.6 L314.5 218.7 L313.5 218.8 L312.5 218.8 L311.5 218.9 L310.5 219.0 L309.5 219.1 L308.5 219.2 L307.5 219.3 L306.5 219.4 L305.5 219.5 L304.5 219.6 L303.5 219.7 L302.5 219.8 L301.5 219.9 L300.5 220.0 L299.5 220.1 L298.5 220.2 L297.5 220.3 L296.5 220.4 L295.5 220.4 L294.5 220.5 L293.5 220.6 L292.5 220.7 L291.5 220.8 L290.5 220.9 L289.5 221.0 L288.5 221.1 L287.5 221.2 L286.5 221.3 L285.5 221.4 L284.5 221.5 L283.5 221.6 L282.5 221.7 L281.5 221.8 L280.5 221.9 L279.5 222.0 L278.5 222.1 L277.5 222.2 L276.5 222.3 L275.5 222.4 L274.5 222.5 L273.5 222.6 L272.5 222.7 L271.5 222.8 L270.5 222.9 L269.5 223.0 L268.5 223.1 L267.5 223.2 L266.5 223.3 L265.5 223.4 L264.5 223.5 L263.5 223.6 L262.5 223.7 L261.5 223.8 L260.5 223.9 L259.5 224.0 L258.5 224.1 L257.5 224.2 L256.5 224.4 L255.5 224.5 L254.5 224.6 L253.5 224.7 L252.5 224.8 L251.5 224.9 L250.5 225.0 L249.5 225.1 L248.5 225.2 L247.5 225.3 L246.5 225.4 L245.5 225.5 L244.5 225.7 L243.5 225.8 L242.5 225.9 L241.5 226.0 L240.5 226.1 L239.5 226.3 L238.5 226.4 L237.5 226.5 L236.5 226.6 L235.5 226.7 L234.5 226.9 L233.5 227.0 L232.5 227.1 L231.5 227.3 L230.5 227.4 L229.5 227.5 L228.5 227.7 L227.5 227.8 L226.5 227.9 L225.5 228.1 L224.5 228.2 L223.5 228.3 L222.5 228.5 L221.5 228.6 L220.5 228.7 L219.5 228.9 L218.5 229.0 L217.5 229.1 L216.5 229.3 L215.5 229.4 L214.5 229.5 L213.5 229.6 L212.5 229.8 L211.5 229.9 L210.5 230.0 L209.5 230.1 L208.5 230.2 L207.5 230.4 L206.5 230.5 L205.5 230.6 L204.5 230.7 L203.5 230.8 L202.5 230.9 L201.5 231.0 L200.5 231.0 L199.5 231.1 L198.5 231.2 L197.5 231.3 L196.5 231.4 L195.5 231.4 L194.5 231.5 L193.5 231.6 L192.5 231.7 L191.5 231.7 L190.5 231.8 L189.5 231.9 L188.5 231.9 L187.5 232.0 L186.5 232.1 L185.5 232.2 L184.5 232.2 L183.5 232.3 L182.5 232.4 L181.5 232.5 L180.5 232.6 L179.5 232.7 L178.5 232.8 L177.5 232.9 L176.5 233.0 L175.5 233.1 L174.5 233.2 L173.5 233.3 L172.5 233.5 L171.5 233.6 L170.5 233.8 L169.5 234.0 L168.5 234.2 L167.5 234.4 L166.5 234.6 L165.5 234.8 L164.5 235.0 L163.5 235.3 L162.5 235.6 L161.5 235.9 L160.5 236.2 L159.5 236.5 L158.5 236.9 L157.5 237.2 L156.5 237.6 L155.5 238.1 L154.5 238.6 L153.5 239.1 L152.5 239.6 L151.5 240.2 L150.5 240.8 L149.5 241.5 L148.5 242.2 L147.5 243.0 L146.5 243.9 L145.5 244.8 L144.5 245.9 L143.5 247.0 L142.5 248.3 L141.5 249.6 L140.5 251.2 L139.5 253.0 L138.5 255.1 L137.5 257.2 L136.5 259.3 L135.5 261.6 L134.5 264.1 L133.5 266.7 L132.5 269.6 L131.5 272.6 L130.5 276.0 L129.5 279.6 L128.5 283.4 L127.5 287.4 L126.5 291.4 L125.5 295.3 L124.5 299.1 L123.5 302.8 L122.5 306.5 L121.5 310.3 L120.5 314.2 L119.5 318.2 L118.5 322.1 L117.5 325.4 L116.5 328.3 L115.5 330.6 L114.5 332.6 L113.5 334.3 L112.5 335.7 L111.5 337.0 L110.5 338.1 L109.5 339.0 L108.5 339.7 L107.5 340.2 L106.5 340.6 L105.5 340.7 L104.5 340.6 L103.5 340.2 L102.5 339.7 L101.5 338.9 L100.5 337.9 L99.5 336.8 L98.5 335.6 L97.5 334.4 L96.5 332.9 L95.5 331.2 L94.5 329.6 L93.5 327.9 L92.5 326.3 L91.5 324.6 L90.5 323.0 L89.5 321.4 L88.5 319.8 L87.5 318.2 L86.5 316.6 L85.5 315.1 L84.5 313.5 L83.5 312.0 L82.5 310.5 L81.5 309.1 L80.5 307.7 L79.5 306.4 L78.5 305.4 L77.5 304.4 L76.5 303.4 L75.5 302.4 L74.5 301.5 L73.5 300.6 L72.5 299.7 L71.5 298.9 L70.5 298.1 L69.5 297.3 L68.5 296.6 L67.5 295.8 L66.5 295.1 L65.5 294.4 L64.5 293.8 L63.5 293.1 L62.5 292.5 L61.5 291.9 L60.5 291.3 L59.5 290.7 L58.5 290.2 L57.5 289.6 L56.5 289.1 L55.5 288.7 L54.5 288.3 L53.5 288.0 L52.5 287.7 L51.5 287.4 L50.5 287.1 L49.5 286.8 L48.5 286.5 L47.5 286.3 L46.5 286.0 L45.5 285.8 L44.5 285.6 L43.5 285.4 L42.5 285.2 L41.5 285.0 L40.5 284.8 L39.5 284.6 L38.5 284.5 L37.5 284.3 L36.5 284.1 L35.5 284.0 L34.5 283.8 L33.5 283.7 L32.5 283.6 L31.5 283.4 L30.5 283.3 L29.5 283.2 L28.5 283.0 L27.5 282.9 L26.5 282.8 L25.5 282.6 L24.5 282.5 L23.7 282.4 L22.4 277.9" stroke="#800080"/>
</g>
<rect x="13.2" y="2.2" width="667.6" height="496.5" fill="none" stroke="#000" stroke-width="2"/>
<line x1="2.5" y1="65.0" x2="13.2" y2="65.0" stroke="#000" stroke-width="2"/>
<line x1="7.3" y1="23.6" x2="13.2" y2="23.6" stroke="#000" stroke-width="2"/>
<line x1="2.5" y1="147.7" x2="13.2" y2="147.7" stroke="#000" stroke-width="2"/>
<line x1="7.3" y1="106.3" x2="13.2" y2="106.3" stroke="#000" stroke-width="2"/>
<line x1="2.5" y1="230.4" x2="13.2" y2="230.4" stroke="#000" stroke-width="2"/>
<line x1="7.3" y1="189.1" x2="13.2" y2="189.1" stroke="#000" stroke-width="2"/>
<line x1="2.5" y1="313.1" x2="13.2" y2="313.1" stroke="#000" stroke-width="2"/>
<line x1="7.3" y1="271.8" x2="13.2" y2="271.8" stroke="#000" stroke-width="2"/>
<line x1="2.5" y1="395.8" x2="13.2" y2="395.8" stroke="#000" stroke-width="2"/>
<line x1="7.3" y1="354.4" x2="13.2" y2="354.4" stroke="#000" stroke-width="2"/>
<line x1="2.5" y1="478.5" x2="13.2" y2="478.5" stroke="#000" stroke-width="2"/>
<line x1="7.3" y1="437.1" x2="13.2" y2="437.1" stroke="#000" stroke-width="2"/>
<line x1="21.7" y1="498.7" x2="21.7" y2="509" stroke="#000" stroke-width="2"/>
<text x="21.7" y="535.5" class="tl">-0.2</text>
<line x1="67.2" y1="498.7" x2="67.2" y2="505" stroke="#000" stroke-width="2"/>
<line x1="112.6" y1="498.7" x2="112.6" y2="509" stroke="#000" stroke-width="2"/>
<text x="112.6" y="535.5" class="tl">0.0</text>
<line x1="158.1" y1="498.7" x2="158.1" y2="505" stroke="#000" stroke-width="2"/>
<line x1="203.6" y1="498.7" x2="203.6" y2="509" stroke="#000" stroke-width="2"/>
<text x="203.6" y="535.5" class="tl">0.2</text>
<line x1="249.0" y1="498.7" x2="249.0" y2="505" stroke="#000" stroke-width="2"/>
<line x1="294.5" y1="498.7" x2="294.5" y2="509" stroke="#000" stroke-width="2"/>
<text x="294.5" y="535.5" class="tl">0.4</text>
<line x1="340.0" y1="498.7" x2="340.0" y2="505" stroke="#000" stroke-width="2"/>
<line x1="385.5" y1="498.7" x2="385.5" y2="509" stroke="#000" stroke-width="2"/>
<text x="385.5" y="535.5" class="tl">0.6</text>
<line x1="430.9" y1="498.7" x2="430.9" y2="505" stroke="#000" stroke-width="2"/>
<line x1="476.4" y1="498.7" x2="476.4" y2="509" stroke="#000" stroke-width="2"/>
<text x="476.4" y="535.5" class="tl">0.8</text>
<line x1="521.9" y1="498.7" x2="521.9" y2="505" stroke="#000" stroke-width="2"/>
<line x1="567.3" y1="498.7" x2="567.3" y2="509" stroke="#000" stroke-width="2"/>
<text x="567.3" y="535.5" class="tl">1.0</text>
<line x1="612.8" y1="498.7" x2="612.8" y2="505" stroke="#000" stroke-width="2"/>
<line x1="658.3" y1="498.7" x2="658.3" y2="509" stroke="#000" stroke-width="2"/>
<text x="658.3" y="535.5" class="tl">1.2</text>
<text x="344" y="567.7" class="xt">E / V</text>
<text x="18.6" y="31.8" class="pl" style="font-size:29px" textLength="19.2" lengthAdjust="spacingAndGlyphs">A</text>
<path d="M32.3 65V148M21.9 65H41.7M22.9 148H43.3" stroke="#000" stroke-width="3" fill="none"/>
<text x="49" y="112.9" class="sb">1 μA</text>
<path d="M57.9 217.5 C66 216.8 74 214.5 80 210.5 C88 204 94 195 98.5 182" stroke="#ff0000" stroke-width="2.8" fill="none" stroke-linecap="round"/>
<path d="M96.2 181.5 L101.9 169 L103.2 183.5 Z" fill="#ff0000"/>
<path d="M181.8 254 C172 256 163 261.5 156 270 C150 278 147 285 146.3 291" stroke="#ff0000" stroke-width="2.8" fill="none" stroke-linecap="round"/>
<path d="M142.9 289.5 L144.6 302.8 L149.5 290 Z" fill="#ff0000"/>
<rect x="431.4" y="10.9" width="234.4" height="188.0" fill="#fff" stroke="none"/>
<line x1="430.8" y1="10.95" x2="666.6" y2="10.95" stroke="#888" stroke-width="1.5"/>
<line x1="665.90" y1="10.9" x2="665.90" y2="200.4" stroke="#999" stroke-width="1.5"/>
<line x1="430.8" y1="198.90" x2="666.6" y2="198.90" stroke="#888" stroke-width="1.5"/>
<line x1="431.45" y1="10.9" x2="431.45" y2="200.4" stroke="#444" stroke-width="1.5"/>
<line x1="427.8" y1="11.0" x2="431.4" y2="11.0" stroke="#333" stroke-width="1.2"/>
<text x="425.5" y="14.9" class="il" style="font-size:11.5px" textLength="27.6" lengthAdjust="spacingAndGlyphs" text-anchor="end">30.0μ</text>
<line x1="427.8" y1="45.0" x2="431.4" y2="45.0" stroke="#333" stroke-width="1.2"/>
<text x="425.5" y="48.9" class="il" style="font-size:11.5px" textLength="27.6" lengthAdjust="spacingAndGlyphs" text-anchor="end">20.0μ</text>
<line x1="427.8" y1="79.1" x2="431.4" y2="79.1" stroke="#333" stroke-width="1.2"/>
<text x="425.5" y="83.0" class="il" style="font-size:11.5px" textLength="27.6" lengthAdjust="spacingAndGlyphs" text-anchor="end">10.0μ</text>
<line x1="427.8" y1="113.1" x2="431.4" y2="113.1" stroke="#333" stroke-width="1.2"/>
<text x="425.5" y="117.0" class="il" style="font-size:11.5px" textLength="15.2" lengthAdjust="spacingAndGlyphs" text-anchor="end">0.0</text>
<line x1="427.8" y1="147.1" x2="431.4" y2="147.1" stroke="#333" stroke-width="1.2"/>
<text x="425.5" y="151.0" class="il" style="font-size:11.5px" textLength="31.2" lengthAdjust="spacingAndGlyphs" text-anchor="end">-10.0μ</text>
<line x1="427.8" y1="181.2" x2="431.4" y2="181.2" stroke="#333" stroke-width="1.2"/>
<text x="425.5" y="185.1" class="il" style="font-size:11.5px" textLength="31.2" lengthAdjust="spacingAndGlyphs" text-anchor="end">-20.0μ</text>
<line x1="429.6" y1="28.0" x2="431.4" y2="28.0" stroke="#333" stroke-width="1.2"/>
<line x1="429.6" y1="62.0" x2="431.4" y2="62.0" stroke="#333" stroke-width="1.2"/>
<line x1="429.6" y1="96.1" x2="431.4" y2="96.1" stroke="#333" stroke-width="1.2"/>
<line x1="429.6" y1="130.1" x2="431.4" y2="130.1" stroke="#333" stroke-width="1.2"/>
<line x1="429.6" y1="164.2" x2="431.4" y2="164.2" stroke="#333" stroke-width="1.2"/>
<line x1="429.6" y1="198.2" x2="431.4" y2="198.2" stroke="#333" stroke-width="1.2"/>
<line x1="431.4" y1="198.9" x2="431.4" y2="202.7" stroke="#333" stroke-width="1.2"/>
<text x="431.4" y="214.6" class="il" style="font-size:12.0px" text-anchor="middle">0.04</text>
<line x1="452.7" y1="198.9" x2="452.7" y2="202.7" stroke="#333" stroke-width="1.2"/>
<text x="452.7" y="214.6" class="il" style="font-size:12.0px" text-anchor="middle">0.06</text>
<line x1="474.0" y1="198.9" x2="474.0" y2="202.7" stroke="#333" stroke-width="1.2"/>
<text x="474.0" y="214.6" class="il" style="font-size:12.0px" text-anchor="middle">0.08</text>
<line x1="495.4" y1="198.9" x2="495.4" y2="202.7" stroke="#333" stroke-width="1.2"/>
<text x="495.4" y="214.6" class="il" style="font-size:12.0px" text-anchor="middle">0.10</text>
<line x1="516.7" y1="198.9" x2="516.7" y2="202.7" stroke="#333" stroke-width="1.2"/>
<text x="516.7" y="214.6" class="il" style="font-size:12.0px" text-anchor="middle">0.12</text>
<line x1="538.0" y1="198.9" x2="538.0" y2="202.7" stroke="#333" stroke-width="1.2"/>
<text x="538.0" y="214.6" class="il" style="font-size:12.0px" text-anchor="middle">0.14</text>
<line x1="559.3" y1="198.9" x2="559.3" y2="202.7" stroke="#333" stroke-width="1.2"/>
<text x="559.3" y="214.6" class="il" style="font-size:12.0px" text-anchor="middle">0.16</text>
<line x1="580.6" y1="198.9" x2="580.6" y2="202.7" stroke="#333" stroke-width="1.2"/>
<text x="580.6" y="214.6" class="il" style="font-size:12.0px" text-anchor="middle">0.18</text>
<line x1="602.0" y1="198.9" x2="602.0" y2="202.7" stroke="#333" stroke-width="1.2"/>
<text x="602.0" y="214.6" class="il" style="font-size:12.0px" text-anchor="middle">0.20</text>
<line x1="623.3" y1="198.9" x2="623.3" y2="202.7" stroke="#333" stroke-width="1.2"/>
<text x="623.3" y="214.6" class="il" style="font-size:12.0px" text-anchor="middle">0.22</text>
<line x1="644.6" y1="198.9" x2="644.6" y2="202.7" stroke="#333" stroke-width="1.2"/>
<text x="644.6" y="214.6" class="il" style="font-size:12.0px" text-anchor="middle">0.24</text>
<line x1="665.9" y1="198.9" x2="665.9" y2="202.7" stroke="#333" stroke-width="1.2"/>
<text x="665.9" y="214.6" class="il" style="font-size:12.0px" text-anchor="middle">0.26</text>
<line x1="442.1" y1="198.9" x2="442.1" y2="200.7" stroke="#333" stroke-width="1.2"/>
<line x1="463.4" y1="198.9" x2="463.4" y2="200.7" stroke="#333" stroke-width="1.2"/>
<line x1="484.7" y1="198.9" x2="484.7" y2="200.7" stroke="#333" stroke-width="1.2"/>
<line x1="506.0" y1="198.9" x2="506.0" y2="200.7" stroke="#333" stroke-width="1.2"/>
<line x1="527.3" y1="198.9" x2="527.3" y2="200.7" stroke="#333" stroke-width="1.2"/>
<line x1="548.7" y1="198.9" x2="548.7" y2="200.7" stroke="#333" stroke-width="1.2"/>
<line x1="570.0" y1="198.9" x2="570.0" y2="200.7" stroke="#333" stroke-width="1.2"/>
<line x1="591.3" y1="198.9" x2="591.3" y2="200.7" stroke="#333" stroke-width="1.2"/>
<line x1="612.6" y1="198.9" x2="612.6" y2="200.7" stroke="#333" stroke-width="1.2"/>
<line x1="633.9" y1="198.9" x2="633.9" y2="200.7" stroke="#333" stroke-width="1.2"/>
<line x1="655.3" y1="198.9" x2="655.3" y2="200.7" stroke="#333" stroke-width="1.2"/>
<rect x="449.7" y="73.3" width="6.3" height="6.3" fill="#000"/>
<rect x="471.2" y="64.9" width="6.3" height="6.3" fill="#000"/>
<rect x="492.5" y="57.2" width="6.3" height="6.3" fill="#000"/>
<rect x="513.2" y="50.2" width="6.3" height="6.3" fill="#000"/>
<rect x="534.9" y="44.1" width="6.3" height="6.3" fill="#000"/>
<rect x="556.4" y="38.4" width="6.3" height="6.3" fill="#000"/>
<rect x="577.6" y="31.9" width="6.3" height="6.3" fill="#000"/>
<rect x="599.1" y="26.8" width="6.3" height="6.3" fill="#000"/>
<rect x="620.2" y="21.4" width="6.3" height="6.3" fill="#000"/>
<rect x="641.5" y="15.8" width="6.3" height="6.3" fill="#000"/>
<rect x="449.7" y="137.2" width="6.3" height="6.3" fill="#000"/>
<rect x="471.2" y="143.5" width="6.3" height="6.3" fill="#000"/>
<rect x="492.5" y="149.7" width="6.3" height="6.3" fill="#000"/>
<rect x="513.2" y="155.8" width="6.3" height="6.3" fill="#000"/>
<rect x="534.9" y="160.5" width="6.3" height="6.3" fill="#000"/>
<rect x="556.4" y="166.0" width="6.3" height="6.3" fill="#000"/>
<rect x="577.6" y="169.8" width="6.3" height="6.3" fill="#000"/>
<rect x="599.1" y="174.7" width="6.3" height="6.3" fill="#000"/>
<rect x="620.2" y="178.5" width="6.3" height="6.3" fill="#000"/>
<rect x="641.5" y="183.0" width="6.3" height="6.3" fill="#000"/>
<text x="436.6" y="37.7" class="pl" style="font-size:25.0px" textLength="15.6" lengthAdjust="spacingAndGlyphs">B</text>
<text x="617.0" y="43.1" class="lab" textLength="13.4" lengthAdjust="spacingAndGlyphs">Ipa</text>
<text x="615.8" y="166.7" class="lab" textLength="12.3" lengthAdjust="spacingAndGlyphs">Ipc</text>
<text x="550.5" y="233.3" class="at" style="font-size:14px" text-anchor="middle">ν Vs<tspan dy="-6.5" style="font-size:8px">-1</tspan></text>
<text transform="translate(386.7 114.7) rotate(-90)" class="at" text-anchor="middle">Ip [A]</text>
<rect x="411.1" y="254.8" width="259.6" height="194.8" fill="#fff" stroke="none"/>
<line x1="410.4" y1="254.85" x2="671.4" y2="254.85" stroke="#444" stroke-width="1.5"/>
<line x1="670.65" y1="254.8" x2="670.65" y2="451.2" stroke="#333" stroke-width="1.5"/>
<line x1="410.4" y1="449.70" x2="671.4" y2="449.70" stroke="#888" stroke-width="1.5"/>
<line x1="411.05" y1="254.8" x2="411.05" y2="451.2" stroke="#888" stroke-width="1.5"/>
<line x1="407.4" y1="254.7" x2="411.1" y2="254.7" stroke="#333" stroke-width="1.2"/>
<text x="404.2" y="258.8" class="il" style="font-size:12.0px" textLength="29.9" lengthAdjust="spacingAndGlyphs" text-anchor="end">30.0μ</text>
<line x1="407.4" y1="290.1" x2="411.1" y2="290.1" stroke="#333" stroke-width="1.2"/>
<text x="404.2" y="294.2" class="il" style="font-size:12.0px" textLength="29.9" lengthAdjust="spacingAndGlyphs" text-anchor="end">20.0μ</text>
<line x1="407.4" y1="325.6" x2="411.1" y2="325.6" stroke="#333" stroke-width="1.2"/>
<text x="404.2" y="329.6" class="il" style="font-size:12.0px" textLength="29.9" lengthAdjust="spacingAndGlyphs" text-anchor="end">10.0μ</text>
<line x1="407.4" y1="361.0" x2="411.1" y2="361.0" stroke="#333" stroke-width="1.2"/>
<text x="404.2" y="365.1" class="il" style="font-size:12.0px" textLength="16.4" lengthAdjust="spacingAndGlyphs" text-anchor="end">0.0</text>
<line x1="407.4" y1="396.4" x2="411.1" y2="396.4" stroke="#333" stroke-width="1.2"/>
<text x="404.2" y="400.5" class="il" style="font-size:12.0px" textLength="33.8" lengthAdjust="spacingAndGlyphs" text-anchor="end">-10.0μ</text>
<line x1="407.4" y1="431.9" x2="411.1" y2="431.9" stroke="#333" stroke-width="1.2"/>
<text x="404.2" y="435.9" class="il" style="font-size:12.0px" textLength="33.8" lengthAdjust="spacingAndGlyphs" text-anchor="end">-20.0μ</text>
<line x1="409.2" y1="272.4" x2="411.1" y2="272.4" stroke="#333" stroke-width="1.2"/>
<line x1="409.2" y1="307.9" x2="411.1" y2="307.9" stroke="#333" stroke-width="1.2"/>
<line x1="409.2" y1="343.3" x2="411.1" y2="343.3" stroke="#333" stroke-width="1.2"/>
<line x1="409.2" y1="378.7" x2="411.1" y2="378.7" stroke="#333" stroke-width="1.2"/>
<line x1="409.2" y1="414.1" x2="411.1" y2="414.1" stroke="#333" stroke-width="1.2"/>
<line x1="409.2" y1="449.6" x2="411.1" y2="449.6" stroke="#333" stroke-width="1.2"/>
<line x1="411.3" y1="449.7" x2="411.3" y2="453.5" stroke="#333" stroke-width="1.2"/>
<text x="411.3" y="466.0" class="il" style="font-size:12.8px" text-anchor="middle">0.20</text>
<line x1="450.9" y1="449.7" x2="450.9" y2="453.5" stroke="#333" stroke-width="1.2"/>
<text x="450.9" y="466.0" class="il" style="font-size:12.8px" text-anchor="middle">0.25</text>
<line x1="490.6" y1="449.7" x2="490.6" y2="453.5" stroke="#333" stroke-width="1.2"/>
<text x="490.6" y="466.0" class="il" style="font-size:12.8px" text-anchor="middle">0.30</text>
<line x1="530.2" y1="449.7" x2="530.2" y2="453.5" stroke="#333" stroke-width="1.2"/>
<text x="530.2" y="466.0" class="il" style="font-size:12.8px" text-anchor="middle">0.35</text>
<line x1="569.9" y1="449.7" x2="569.9" y2="453.5" stroke="#333" stroke-width="1.2"/>
<text x="569.9" y="466.0" class="il" style="font-size:12.8px" text-anchor="middle">0.40</text>
<line x1="609.5" y1="449.7" x2="609.5" y2="453.5" stroke="#333" stroke-width="1.2"/>
<text x="609.5" y="466.0" class="il" style="font-size:12.8px" text-anchor="middle">0.45</text>
<line x1="649.2" y1="449.7" x2="649.2" y2="453.5" stroke="#333" stroke-width="1.2"/>
<text x="649.2" y="466.0" class="il" style="font-size:12.8px" text-anchor="middle">0.50</text>
<line x1="431.1" y1="449.7" x2="431.1" y2="451.5" stroke="#333" stroke-width="1.2"/>
<line x1="470.8" y1="449.7" x2="470.8" y2="451.5" stroke="#333" stroke-width="1.2"/>
<line x1="510.4" y1="449.7" x2="510.4" y2="451.5" stroke="#333" stroke-width="1.2"/>
<line x1="550.1" y1="449.7" x2="550.1" y2="451.5" stroke="#333" stroke-width="1.2"/>
<line x1="589.7" y1="449.7" x2="589.7" y2="451.5" stroke="#333" stroke-width="1.2"/>
<line x1="629.4" y1="449.7" x2="629.4" y2="451.5" stroke="#333" stroke-width="1.2"/>
<line x1="669.0" y1="449.7" x2="669.0" y2="451.5" stroke="#333" stroke-width="1.2"/>
<rect x="439.5" y="319.4" width="6.3" height="6.3" fill="#000"/>
<rect x="471.7" y="311.2" width="6.3" height="6.3" fill="#000"/>
<rect x="500.5" y="303.2" width="6.3" height="6.3" fill="#000"/>
<rect x="524.5" y="295.8" width="6.3" height="6.3" fill="#000"/>
<rect x="546.5" y="289.2" width="6.3" height="6.3" fill="#000"/>
<rect x="567.1" y="283.4" width="6.3" height="6.3" fill="#000"/>
<rect x="585.6" y="276.9" width="6.3" height="6.3" fill="#000"/>
<rect x="604.8" y="271.2" width="6.3" height="6.3" fill="#000"/>
<rect x="622.8" y="265.9" width="6.3" height="6.3" fill="#000"/>
<rect x="638.8" y="260.2" width="6.3" height="6.3" fill="#000"/>
<rect x="439.5" y="385.8" width="6.3" height="6.3" fill="#000"/>
<rect x="471.7" y="392.8" width="6.3" height="6.3" fill="#000"/>
<rect x="500.5" y="398.7" width="6.3" height="6.3" fill="#000"/>
<rect x="524.5" y="405.0" width="6.3" height="6.3" fill="#000"/>
<rect x="546.5" y="410.1" width="6.3" height="6.3" fill="#000"/>
<rect x="567.1" y="415.7" width="6.3" height="6.3" fill="#000"/>
<rect x="585.6" y="420.2" width="6.3" height="6.3" fill="#000"/>
<rect x="605.1" y="424.6" width="6.3" height="6.3" fill="#000"/>
<rect x="622.6" y="429.2" width="6.3" height="6.3" fill="#000"/>
<rect x="638.6" y="433.5" width="6.3" height="6.3" fill="#000"/>
<text x="415.0" y="279.6" class="pl" style="font-size:26.0px" textLength="18.8" lengthAdjust="spacingAndGlyphs">C</text>
<text x="617.8" y="288.7" class="lab" textLength="14.4" lengthAdjust="spacingAndGlyphs">Ipa</text>
<text x="614.0" y="413.8" class="lab" textLength="14.0" lengthAdjust="spacingAndGlyphs">Ipc</text>
<text x="521.3" y="487.7" class="at" style="font-size:14px">ν<tspan dy="-7.5" style="font-size:8.5px">1/2</tspan><tspan dy="7.5"> Vs</tspan><tspan dy="-7.5" style="font-size:8.5px">-1</tspan></text>
<text transform="translate(367.5 357.5) rotate(-90)" class="at" text-anchor="middle">Ip [A]</text>
</svg>
</body></html>
